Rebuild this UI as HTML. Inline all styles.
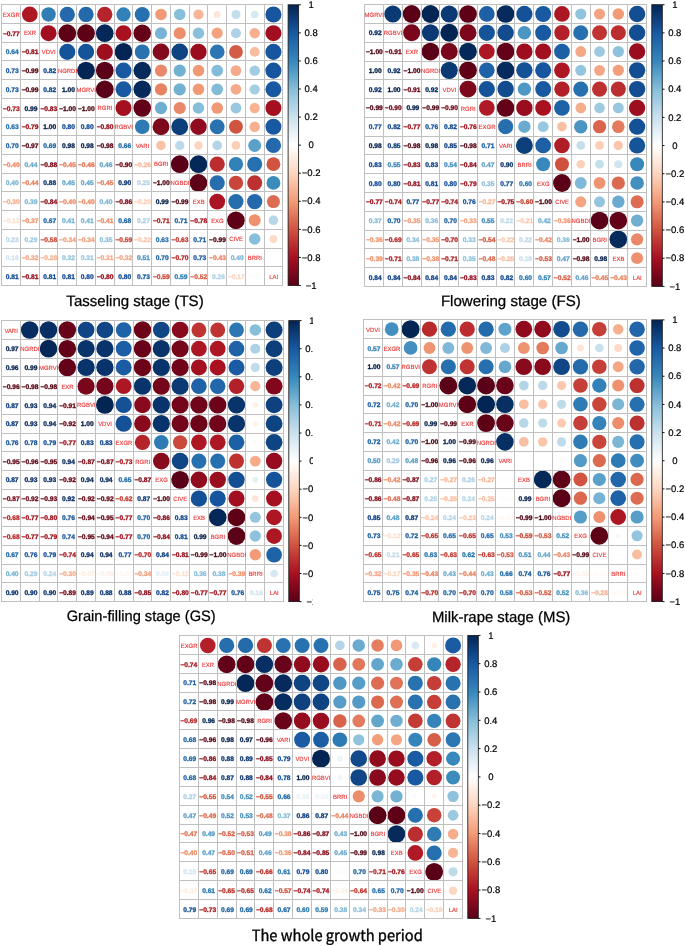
<!DOCTYPE html>
<html lang="en"><head><meta charset="utf-8"><title>Correlation plots</title>
<style>html,body{margin:0;padding:0;background:#fff}svg{display:block}</style></head>
<body>
<svg width="685" height="946" viewBox="0 0 685 946">
<defs><linearGradient id="cb" x1="0" y1="0" x2="0" y2="1">
<stop offset="0" stop-color="#032554"/>
<stop offset="0.02" stop-color="#072f63"/>
<stop offset="0.04" stop-color="#0b3972"/>
<stop offset="0.06" stop-color="#0f4482"/>
<stop offset="0.08" stop-color="#144e92"/>
<stop offset="0.1" stop-color="#1859a2"/>
<stop offset="0.12" stop-color="#1e62a7"/>
<stop offset="0.14" stop-color="#246bac"/>
<stop offset="0.16" stop-color="#2a74b1"/>
<stop offset="0.18" stop-color="#307eb6"/>
<stop offset="0.2" stop-color="#3787bb"/>
<stop offset="0.22" stop-color="#4692c1"/>
<stop offset="0.24" stop-color="#569dc7"/>
<stop offset="0.26" stop-color="#65a8cd"/>
<stop offset="0.28" stop-color="#76b2d3"/>
<stop offset="0.3" stop-color="#86bed9"/>
<stop offset="0.32" stop-color="#94c5dd"/>
<stop offset="0.34" stop-color="#a1cce2"/>
<stop offset="0.36" stop-color="#afd3e6"/>
<stop offset="0.38" stop-color="#bddaea"/>
<stop offset="0.4" stop-color="#cbe1ee"/>
<stop offset="0.42" stop-color="#d5e7f1"/>
<stop offset="0.44" stop-color="#e0edf5"/>
<stop offset="0.46" stop-color="#eaf3f8"/>
<stop offset="0.48" stop-color="#f4f9fc"/>
<stop offset="0.5" stop-color="#ffffff"/>
<stop offset="0.52" stop-color="#fff7f2"/>
<stop offset="0.54" stop-color="#feefe5"/>
<stop offset="0.56" stop-color="#fee6d9"/>
<stop offset="0.58" stop-color="#fddecc"/>
<stop offset="0.6" stop-color="#fdd6c0"/>
<stop offset="0.62" stop-color="#fbcab1"/>
<stop offset="0.64" stop-color="#f9bea1"/>
<stop offset="0.66" stop-color="#f7b293"/>
<stop offset="0.68" stop-color="#f4a684"/>
<stop offset="0.7" stop-color="#f29b76"/>
<stop offset="0.72" stop-color="#ec8c6b"/>
<stop offset="0.74" stop-color="#e57d60"/>
<stop offset="0.76" stop-color="#de6f55"/>
<stop offset="0.78" stop-color="#d7614b"/>
<stop offset="0.8" stop-color="#d05340"/>
<stop offset="0.82" stop-color="#c8453a"/>
<stop offset="0.84" stop-color="#c03733"/>
<stop offset="0.86" stop-color="#b82a2d"/>
<stop offset="0.88" stop-color="#b11d27"/>
<stop offset="0.9" stop-color="#a91121"/>
<stop offset="0.92" stop-color="#980d1f"/>
<stop offset="0.94" stop-color="#88091d"/>
<stop offset="0.96" stop-color="#79061b"/>
<stop offset="0.98" stop-color="#690319"/>
<stop offset="1" stop-color="#5a0017"/>
</linearGradient><clipPath id="clip3"><rect x="0" y="300" width="312.9" height="320"/></clipPath></defs>
<rect width="685" height="946" fill="#fff"/>
<g text-rendering="geometricPrecision">
<g>
<g>
<circle cx="29.81" cy="14.46" r="7.85" fill="#ad1724"/>
<circle cx="48.55" cy="14.46" r="7.20" fill="#317eb6"/>
<circle cx="67.29" cy="14.46" r="7.66" fill="#2369ab"/>
<circle cx="86.03" cy="14.46" r="7.66" fill="#2369ab"/>
<circle cx="104.77" cy="14.46" r="7.66" fill="#b5242a"/>
<circle cx="123.51" cy="14.46" r="7.14" fill="#3281b8"/>
<circle cx="142.25" cy="14.46" r="7.51" fill="#2770af"/>
<circle cx="160.99" cy="14.46" r="5.78" fill="#f19874"/>
<circle cx="179.73" cy="14.46" r="5.78" fill="#87beda"/>
<circle cx="198.47" cy="14.46" r="5.07" fill="#f7b698"/>
<circle cx="217.21" cy="14.46" r="3.37" fill="#fee5d7"/>
<circle cx="235.95" cy="14.46" r="4.49" fill="#c2ddeb"/>
<circle cx="254.69" cy="14.46" r="3.82" fill="#d6e8f2"/>
<circle cx="273.43" cy="14.46" r="8.04" fill="#17569e"/>
<circle cx="48.55" cy="33.17" r="8.04" fill="#a10f20"/>
<circle cx="67.29" cy="33.17" r="8.84" fill="#5e0117"/>
<circle cx="86.03" cy="33.17" r="8.84" fill="#5e0117"/>
<circle cx="104.77" cy="33.17" r="8.84" fill="#042858"/>
<circle cx="123.51" cy="33.17" r="7.95" fill="#a91121"/>
<circle cx="142.25" cy="33.17" r="8.76" fill="#650218"/>
<circle cx="160.99" cy="33.17" r="6.04" fill="#77b3d4"/>
<circle cx="179.73" cy="33.17" r="6.04" fill="#ec8d6b"/>
<circle cx="198.47" cy="33.17" r="5.72" fill="#8bc0db"/>
<circle cx="217.21" cy="33.17" r="5.58" fill="#f4a17e"/>
<circle cx="235.95" cy="33.17" r="4.99" fill="#add2e5"/>
<circle cx="254.69" cy="33.17" r="5.22" fill="#f6b090"/>
<circle cx="273.43" cy="33.17" r="8.04" fill="#a10f20"/>
<circle cx="67.29" cy="51.88" r="8.09" fill="#16549a"/>
<circle cx="86.03" cy="51.88" r="8.09" fill="#16549a"/>
<circle cx="104.77" cy="51.88" r="8.13" fill="#9d0e1f"/>
<circle cx="123.51" cy="51.88" r="8.88" fill="#032554"/>
<circle cx="142.25" cy="51.88" r="7.45" fill="#2972b0"/>
<circle cx="160.99" cy="51.88" r="8.36" fill="#85091c"/>
<circle cx="179.73" cy="51.88" r="8.36" fill="#0f4482"/>
<circle cx="198.47" cy="51.88" r="8.18" fill="#990d1f"/>
<circle cx="217.21" cy="51.88" r="7.35" fill="#2c77b3"/>
<circle cx="235.95" cy="51.88" r="6.87" fill="#d45b46"/>
<circle cx="254.69" cy="51.88" r="4.91" fill="#f8bc9f"/>
<circle cx="273.43" cy="51.88" r="8.04" fill="#17569e"/>
<circle cx="86.03" cy="70.60" r="8.88" fill="#032554"/>
<circle cx="104.77" cy="70.60" r="8.88" fill="#5a0017"/>
<circle cx="123.51" cy="70.60" r="7.99" fill="#1859a2"/>
<circle cx="142.25" cy="70.60" r="8.80" fill="#052a5b"/>
<circle cx="160.99" cy="70.60" r="6.11" fill="#ea8969"/>
<circle cx="179.73" cy="70.60" r="6.11" fill="#73b1d2"/>
<circle cx="198.47" cy="70.60" r="5.78" fill="#f19874"/>
<circle cx="217.21" cy="70.60" r="5.85" fill="#83bcd8"/>
<circle cx="235.95" cy="70.60" r="5.37" fill="#f5aa89"/>
<circle cx="254.69" cy="70.60" r="5.22" fill="#a2cce2"/>
<circle cx="273.43" cy="70.60" r="8.04" fill="#17569e"/>
<circle cx="104.77" cy="89.31" r="8.88" fill="#5a0017"/>
<circle cx="123.51" cy="89.31" r="7.99" fill="#1859a2"/>
<circle cx="142.25" cy="89.31" r="8.80" fill="#052a5b"/>
<circle cx="160.99" cy="89.31" r="6.17" fill="#e78263"/>
<circle cx="179.73" cy="89.31" r="6.11" fill="#73b1d2"/>
<circle cx="198.47" cy="89.31" r="5.78" fill="#f19874"/>
<circle cx="217.21" cy="89.31" r="5.85" fill="#83bcd8"/>
<circle cx="235.95" cy="89.31" r="5.37" fill="#f5aa89"/>
<circle cx="254.69" cy="89.31" r="5.15" fill="#a6cee3"/>
<circle cx="273.43" cy="89.31" r="7.99" fill="#1859a2"/>
<circle cx="123.51" cy="108.02" r="7.99" fill="#a51020"/>
<circle cx="142.25" cy="108.02" r="8.80" fill="#620118"/>
<circle cx="160.99" cy="108.02" r="6.17" fill="#6faed1"/>
<circle cx="179.73" cy="108.02" r="6.11" fill="#ea8969"/>
<circle cx="198.47" cy="108.02" r="5.78" fill="#87beda"/>
<circle cx="217.21" cy="108.02" r="5.85" fill="#f19874"/>
<circle cx="235.95" cy="108.02" r="5.44" fill="#98c7df"/>
<circle cx="254.69" cy="108.02" r="5.15" fill="#f7b394"/>
<circle cx="273.43" cy="108.02" r="7.99" fill="#a51020"/>
<circle cx="142.25" cy="126.74" r="7.30" fill="#2e7ab4"/>
<circle cx="160.99" cy="126.74" r="8.45" fill="#7d071b"/>
<circle cx="179.73" cy="126.74" r="8.45" fill="#0d3f7a"/>
<circle cx="198.47" cy="126.74" r="8.27" fill="#910b1e"/>
<circle cx="217.21" cy="126.74" r="7.40" fill="#2972b0"/>
<circle cx="235.95" cy="126.74" r="6.93" fill="#d15441"/>
<circle cx="254.69" cy="126.74" r="5.22" fill="#f6b090"/>
<circle cx="273.43" cy="126.74" r="7.99" fill="#1859a2"/>
<circle cx="160.99" cy="145.45" r="4.75" fill="#f9c2a7"/>
<circle cx="179.73" cy="145.45" r="4.67" fill="#bbd9e9"/>
<circle cx="198.47" cy="145.45" r="4.22" fill="#fcd4bd"/>
<circle cx="217.21" cy="145.45" r="4.83" fill="#b4d5e7"/>
<circle cx="235.95" cy="145.45" r="4.41" fill="#fbceb6"/>
<circle cx="254.69" cy="145.45" r="6.47" fill="#5aa0c9"/>
<circle cx="273.43" cy="145.45" r="7.66" fill="#2369ab"/>
<circle cx="179.73" cy="164.16" r="8.88" fill="#5a0017"/>
<circle cx="198.47" cy="164.16" r="8.84" fill="#042858"/>
<circle cx="217.21" cy="164.16" r="7.56" fill="#bb2d2f"/>
<circle cx="235.95" cy="164.16" r="7.14" fill="#3281b8"/>
<circle cx="254.69" cy="164.16" r="7.51" fill="#2770af"/>
<circle cx="273.43" cy="164.16" r="6.93" fill="#d15441"/>
<circle cx="198.47" cy="182.88" r="8.84" fill="#5e0117"/>
<circle cx="217.21" cy="182.88" r="7.56" fill="#266eae"/>
<circle cx="235.95" cy="182.88" r="7.14" fill="#c9453a"/>
<circle cx="254.69" cy="182.88" r="7.51" fill="#bd3131"/>
<circle cx="273.43" cy="182.88" r="6.93" fill="#3b8bbd"/>
<circle cx="217.21" cy="201.59" r="7.90" fill="#ab1423"/>
<circle cx="235.95" cy="201.59" r="7.56" fill="#266eae"/>
<circle cx="254.69" cy="201.59" r="7.66" fill="#2369ab"/>
<circle cx="273.43" cy="201.59" r="6.53" fill="#dd6c53"/>
<circle cx="235.95" cy="220.30" r="8.84" fill="#5e0117"/>
<circle cx="254.69" cy="220.30" r="5.98" fill="#ee916e"/>
<circle cx="273.43" cy="220.30" r="4.75" fill="#b7d7e8"/>
<circle cx="254.69" cy="239.02" r="5.78" fill="#87beda"/>
<circle cx="273.43" cy="239.02" r="3.93" fill="#fddbc7"/>
<circle cx="273.43" cy="257.73" r="1.64" fill="#fbfdfe"/>
</g>
<path d="M1.70 4.80V285.50M1.70 4.80H282.80M20.44 4.80V285.50M1.70 23.51H282.80M39.18 4.80V285.50M1.70 42.23H282.80M57.92 4.80V285.50M1.70 60.94H282.80M76.66 4.80V285.50M1.70 79.65H282.80M95.40 4.80V285.50M1.70 98.37H282.80M114.14 4.80V285.50M1.70 117.08H282.80M132.88 4.80V285.50M1.70 135.79H282.80M151.62 4.80V285.50M1.70 154.51H282.80M170.36 4.80V285.50M1.70 173.22H282.80M189.10 4.80V285.50M1.70 191.93H282.80M207.84 4.80V285.50M1.70 210.65H282.80M226.58 4.80V285.50M1.70 229.36H282.80M245.32 4.80V285.50M1.70 248.07H282.80M264.06 4.80V285.50M1.70 266.79H282.80M282.80 4.80V285.50M1.70 285.50H282.80" stroke="#c0c0c0" stroke-width="1" fill="none" stroke-linecap="square" shape-rendering="crispEdges"/>
<g font-family="'Liberation Sans', Arial, Helvetica, sans-serif" font-weight="bold" font-size="6.65" text-anchor="middle" stroke-width="0.3">
<text x="11.37" y="35.77" fill="#a10f1a" stroke="#a10f1a">−0.77</text>
<text x="12.27" y="54.48" fill="#2570ac" stroke="#2570ac">0.64</text>
<text x="30.11" y="54.48" fill="#940916" stroke="#940916">−0.81</text>
<text x="12.27" y="73.20" fill="#195aa0" stroke="#195aa0">0.73</text>
<text x="30.11" y="73.20" fill="#4f000f" stroke="#4f000f">−0.99</text>
<text x="49.75" y="73.20" fill="#0e458d" stroke="#0e458d">0.82</text>
<text x="12.27" y="91.91" fill="#195aa0" stroke="#195aa0">0.73</text>
<text x="30.11" y="91.91" fill="#4f000f" stroke="#4f000f">−0.99</text>
<text x="49.75" y="91.91" fill="#0e458d" stroke="#0e458d">0.82</text>
<text x="68.49" y="91.91" fill="#011b45" stroke="#011b45">1.00</text>
<text x="11.37" y="110.62" fill="#aa191f" stroke="#aa191f">−0.73</text>
<text x="31.01" y="110.62" fill="#021d49" stroke="#021d49">0.99</text>
<text x="48.85" y="110.62" fill="#900816" stroke="#900816">−0.83</text>
<text x="67.59" y="110.62" fill="#4b000f" stroke="#4b000f">−1.00</text>
<text x="86.33" y="110.62" fill="#4b000f" stroke="#4b000f">−1.00</text>
<text x="12.27" y="129.34" fill="#2672ae" stroke="#2672ae">0.63</text>
<text x="30.11" y="129.34" fill="#9d0b17" stroke="#9d0b17">−0.79</text>
<text x="49.75" y="129.34" fill="#011b45" stroke="#011b45">1.00</text>
<text x="68.49" y="129.34" fill="#104a96" stroke="#104a96">0.80</text>
<text x="87.23" y="129.34" fill="#104a96" stroke="#104a96">0.80</text>
<text x="105.07" y="129.34" fill="#990a17" stroke="#990a17">−0.80</text>
<text x="12.27" y="148.05" fill="#1c61a4" stroke="#1c61a4">0.70</text>
<text x="30.11" y="148.05" fill="#560110" stroke="#560110">−0.97</text>
<text x="49.75" y="148.05" fill="#1e64a5" stroke="#1e64a5">0.69</text>
<text x="68.49" y="148.05" fill="#021f4d" stroke="#021f4d">0.98</text>
<text x="87.23" y="148.05" fill="#021f4d" stroke="#021f4d">0.98</text>
<text x="105.07" y="148.05" fill="#520010" stroke="#520010">−0.98</text>
<text x="124.71" y="148.05" fill="#226ba9" stroke="#226ba9">0.66</text>
<text x="11.37" y="166.76" fill="#ef8b65" stroke="#ef8b65">−0.40</text>
<text x="31.01" y="166.76" fill="#68a9cd" stroke="#68a9cd">0.44</text>
<text x="48.85" y="166.76" fill="#760513" stroke="#760513">−0.88</text>
<text x="67.59" y="166.76" fill="#e77b5a" stroke="#e77b5a">−0.45</text>
<text x="86.33" y="166.76" fill="#e37354" stroke="#e37354">−0.46</text>
<text x="105.97" y="166.76" fill="#60a3ca" stroke="#60a3ca">0.46</text>
<text x="123.81" y="166.76" fill="#6e0412" stroke="#6e0412">−0.90</text>
<text x="142.55" y="166.76" fill="#f8b99b" stroke="#f8b99b">−0.26</text>
<text x="12.27" y="185.48" fill="#79b5d4" stroke="#79b5d4">0.40</text>
<text x="30.11" y="185.48" fill="#e97f5c" stroke="#e97f5c">−0.44</text>
<text x="49.75" y="185.48" fill="#093674" stroke="#093674">0.88</text>
<text x="68.49" y="185.48" fill="#64a6cb" stroke="#64a6cb">0.45</text>
<text x="87.23" y="185.48" fill="#64a6cb" stroke="#64a6cb">0.45</text>
<text x="105.07" y="185.48" fill="#e77b5a" stroke="#e77b5a">−0.45</text>
<text x="124.71" y="185.48" fill="#08316c" stroke="#08316c">0.90</text>
<text x="143.45" y="185.48" fill="#b1d3e5" stroke="#b1d3e5">0.25</text>
<text x="161.29" y="185.48" fill="#4b000f" stroke="#4b000f">−1.00</text>
<text x="11.37" y="204.19" fill="#f6ac8a" stroke="#f6ac8a">−0.30</text>
<text x="31.01" y="204.19" fill="#7db7d5" stroke="#7db7d5">0.39</text>
<text x="48.85" y="204.19" fill="#8c0815" stroke="#8c0815">−0.84</text>
<text x="67.59" y="204.19" fill="#ef8b65" stroke="#ef8b65">−0.40</text>
<text x="86.33" y="204.19" fill="#ef8b65" stroke="#ef8b65">−0.40</text>
<text x="105.97" y="204.19" fill="#79b5d4" stroke="#79b5d4">0.40</text>
<text x="123.81" y="204.19" fill="#830715" stroke="#830715">−0.86</text>
<text x="142.55" y="204.19" fill="#fcceb4" stroke="#fcceb4">−0.20</text>
<text x="162.19" y="204.19" fill="#021d49" stroke="#021d49">0.99</text>
<text x="180.03" y="204.19" fill="#4f000f" stroke="#4f000f">−0.99</text>
<text x="11.37" y="222.90" fill="#fde1d1" stroke="#fde1d1">−0.12</text>
<text x="30.11" y="222.90" fill="#f2956f" stroke="#f2956f">−0.37</text>
<text x="49.75" y="222.90" fill="#2068a8" stroke="#2068a8">0.67</text>
<text x="68.49" y="222.90" fill="#75b2d2" stroke="#75b2d2">0.41</text>
<text x="87.23" y="222.90" fill="#75b2d2" stroke="#75b2d2">0.41</text>
<text x="105.07" y="222.90" fill="#ef8b65" stroke="#ef8b65">−0.41</text>
<text x="124.71" y="222.90" fill="#1e64a5" stroke="#1e64a5">0.68</text>
<text x="143.45" y="222.90" fill="#a9cfe3" stroke="#a9cfe3">0.27</text>
<text x="161.29" y="222.90" fill="#b12223" stroke="#b12223">−0.71</text>
<text x="180.93" y="222.90" fill="#1b5fa2" stroke="#1b5fa2">0.71</text>
<text x="198.77" y="222.90" fill="#9f0d18" stroke="#9f0d18">−0.78</text>
<text x="12.27" y="241.62" fill="#b9d7e8" stroke="#b9d7e8">0.23</text>
<text x="31.01" y="241.62" fill="#a1cbe1" stroke="#a1cbe1">0.29</text>
<text x="48.85" y="241.62" fill="#cd4c38" stroke="#cd4c38">−0.58</text>
<text x="67.59" y="241.62" fill="#f39f7b" stroke="#f39f7b">−0.34</text>
<text x="86.33" y="241.62" fill="#f39f7b" stroke="#f39f7b">−0.34</text>
<text x="105.97" y="241.62" fill="#8bbfda" stroke="#8bbfda">0.35</text>
<text x="123.81" y="241.62" fill="#ca4533" stroke="#ca4533">−0.59</text>
<text x="142.55" y="241.62" fill="#fbc7ab" stroke="#fbc7ab">−0.22</text>
<text x="162.19" y="241.62" fill="#2672ae" stroke="#2672ae">0.63</text>
<text x="180.03" y="241.62" fill="#c1372d" stroke="#c1372d">−0.63</text>
<text x="199.67" y="241.62" fill="#1b5fa2" stroke="#1b5fa2">0.71</text>
<text x="217.51" y="241.62" fill="#4f000f" stroke="#4f000f">−0.99</text>
<text x="12.27" y="260.33" fill="#d0e4ef" stroke="#d0e4ef">0.16</text>
<text x="30.11" y="260.33" fill="#f5a583" stroke="#f5a583">−0.32</text>
<text x="48.85" y="260.33" fill="#f7b293" stroke="#f7b293">−0.28</text>
<text x="68.49" y="260.33" fill="#96c5dd" stroke="#96c5dd">0.32</text>
<text x="87.23" y="260.33" fill="#9ac7de" stroke="#9ac7de">0.31</text>
<text x="105.07" y="260.33" fill="#f5a887" stroke="#f5a887">−0.31</text>
<text x="123.81" y="260.33" fill="#f5a583" stroke="#f5a583">−0.32</text>
<text x="143.45" y="260.33" fill="#4c94c1" stroke="#4c94c1">0.51</text>
<text x="162.19" y="260.33" fill="#1c61a4" stroke="#1c61a4">0.70</text>
<text x="180.03" y="260.33" fill="#b32524" stroke="#b32524">−0.70</text>
<text x="199.67" y="260.33" fill="#195aa0" stroke="#195aa0">0.73</text>
<text x="217.51" y="260.33" fill="#eb835f" stroke="#eb835f">−0.43</text>
<text x="237.15" y="260.33" fill="#79b5d4" stroke="#79b5d4">0.40</text>
<text x="12.27" y="279.04" fill="#0f4892" stroke="#0f4892">0.81</text>
<text x="30.11" y="279.04" fill="#940916" stroke="#940916">−0.81</text>
<text x="49.75" y="279.04" fill="#0f4892" stroke="#0f4892">0.81</text>
<text x="68.49" y="279.04" fill="#0f4892" stroke="#0f4892">0.81</text>
<text x="87.23" y="279.04" fill="#104a96" stroke="#104a96">0.80</text>
<text x="105.07" y="279.04" fill="#990a17" stroke="#990a17">−0.80</text>
<text x="124.71" y="279.04" fill="#104a96" stroke="#104a96">0.80</text>
<text x="143.45" y="279.04" fill="#195aa0" stroke="#195aa0">0.73</text>
<text x="161.29" y="279.04" fill="#ca4533" stroke="#ca4533">−0.59</text>
<text x="180.93" y="279.04" fill="#2e7db4" stroke="#2e7db4">0.59</text>
<text x="198.77" y="279.04" fill="#d75d44" stroke="#d75d44">−0.52</text>
<text x="218.41" y="279.04" fill="#add1e4" stroke="#add1e4">0.26</text>
<text x="236.25" y="279.04" fill="#fdd5bf" stroke="#fdd5bf">−0.17</text>
<text x="255.89" y="279.04" fill="#fafcfd" stroke="#fafcfd">0.02</text>
</g>
<g font-family="'Liberation Sans', Arial, Helvetica, sans-serif" font-size="5.95" text-anchor="middle" fill="#ee2c2c" stroke="#ee2c2c" stroke-width="0.1" transform="scale(1 1.05)">
<text x="11.27" y="15.91">EXGR</text>
<text x="30.01" y="33.73">EXR</text>
<text x="48.75" y="51.56">VDVI</text>
<text x="67.49" y="69.38">NGRDI</text>
<text x="86.23" y="87.20">MGRVI</text>
<text x="104.97" y="105.02">RGRI</text>
<text x="123.71" y="122.84">RGBVI</text>
<text x="142.45" y="140.67">VARI</text>
<text x="161.19" y="158.49">BGRI</text>
<text x="179.93" y="176.31">NGBDI</text>
<text x="198.67" y="194.13">EXB</text>
<text x="217.41" y="211.96">EXG</text>
<text x="236.15" y="229.78">CIVE</text>
<text x="254.89" y="247.60">BRRI</text>
<text x="273.63" y="265.42">LAI</text>
</g>
<rect x="288.10" y="4.80" width="10.50" height="280.70" fill="url(#cb)" stroke="#1a1a1a" stroke-width="0.85"/>
<path d="M298.60 4.80h2.2M298.60 32.87h2.2M298.60 60.94h2.2M298.60 89.01h2.2M298.60 117.08h2.2M298.60 145.15h2.2M298.60 173.22h2.2M298.60 201.29h2.2M298.60 229.36h2.2M298.60 257.43h2.2M298.60 285.50h2.2" stroke="#111" stroke-width="1" fill="none"/>
<g font-family="'Liberation Sans', Arial, Helvetica, sans-serif" font-size="9.5" text-anchor="middle" fill="#000" stroke="#000" stroke-width="0.2">
<text x="311.10" y="8.00">1</text>
<text x="311.10" y="36.07">0.8</text>
<text x="311.10" y="64.14">0.6</text>
<text x="311.10" y="92.21">0.4</text>
<text x="311.10" y="120.28">0.2</text>
<text x="311.10" y="148.35">0</text>
<text x="311.10" y="176.42">−0.2</text>
<text x="311.10" y="204.49">−0.4</text>
<text x="311.10" y="232.56">−0.6</text>
<text x="311.10" y="260.63">−0.8</text>
<text x="311.10" y="288.70">−1</text>
</g>
<text transform="translate(135.00 306.30) scale(1 1)" font-family="'Liberation Sans', Arial, Helvetica, sans-serif" font-size="15.07" text-anchor="middle" fill="#000" stroke="#000" stroke-width="0.25">Tasseling stage (TS)</text>
</g>
<g>
<g>
<circle cx="392.88" cy="13.99" r="8.56" fill="#0b3973"/>
<circle cx="411.67" cy="13.99" r="8.90" fill="#5a0017"/>
<circle cx="430.45" cy="13.99" r="8.90" fill="#032554"/>
<circle cx="449.24" cy="13.99" r="8.56" fill="#0b3973"/>
<circle cx="468.03" cy="13.99" r="8.86" fill="#5e0117"/>
<circle cx="486.81" cy="13.99" r="7.87" fill="#1d60a6"/>
<circle cx="505.60" cy="13.99" r="8.82" fill="#052a5b"/>
<circle cx="524.39" cy="13.99" r="8.15" fill="#155196"/>
<circle cx="543.17" cy="13.99" r="8.01" fill="#1859a2"/>
<circle cx="561.96" cy="13.99" r="7.87" fill="#ad1724"/>
<circle cx="580.75" cy="13.99" r="5.59" fill="#91c3dd"/>
<circle cx="599.53" cy="13.99" r="5.52" fill="#f4a481"/>
<circle cx="618.32" cy="13.99" r="5.73" fill="#f39b77"/>
<circle cx="637.11" cy="13.99" r="8.20" fill="#144e92"/>
<circle cx="411.67" cy="32.77" r="8.51" fill="#79061b"/>
<circle cx="430.45" cy="32.77" r="8.56" fill="#0b3973"/>
<circle cx="449.24" cy="32.77" r="8.90" fill="#032554"/>
<circle cx="468.03" cy="32.77" r="8.47" fill="#7d071b"/>
<circle cx="486.81" cy="32.77" r="8.11" fill="#16549a"/>
<circle cx="505.60" cy="32.77" r="8.24" fill="#134c8e"/>
<circle cx="524.39" cy="32.77" r="6.72" fill="#4b95c3"/>
<circle cx="543.17" cy="32.77" r="8.01" fill="#1859a2"/>
<circle cx="561.96" cy="32.77" r="7.72" fill="#b32029"/>
<circle cx="580.75" cy="32.77" r="7.52" fill="#2770af"/>
<circle cx="599.53" cy="32.77" r="7.47" fill="#bf3432"/>
<circle cx="618.32" cy="32.77" r="7.57" fill="#bb2d2f"/>
<circle cx="637.11" cy="32.77" r="8.20" fill="#144e92"/>
<circle cx="430.45" cy="51.55" r="8.90" fill="#5a0017"/>
<circle cx="449.24" cy="51.55" r="8.51" fill="#79061b"/>
<circle cx="468.03" cy="51.55" r="8.86" fill="#042858"/>
<circle cx="486.81" cy="51.55" r="7.87" fill="#ad1724"/>
<circle cx="505.60" cy="51.55" r="8.82" fill="#620118"/>
<circle cx="524.39" cy="51.55" r="8.15" fill="#9d0e1f"/>
<circle cx="543.17" cy="51.55" r="8.06" fill="#a10f20"/>
<circle cx="561.96" cy="51.55" r="7.87" fill="#1d60a6"/>
<circle cx="580.75" cy="51.55" r="5.45" fill="#f5a785"/>
<circle cx="599.53" cy="51.55" r="5.38" fill="#9cc9e0"/>
<circle cx="618.32" cy="51.55" r="5.66" fill="#8ec2dc"/>
<circle cx="637.11" cy="51.55" r="8.20" fill="#990d1f"/>
<circle cx="449.24" cy="70.33" r="8.56" fill="#0b3973"/>
<circle cx="468.03" cy="70.33" r="8.86" fill="#5e0117"/>
<circle cx="486.81" cy="70.33" r="7.82" fill="#1e62a7"/>
<circle cx="505.60" cy="70.33" r="8.82" fill="#052a5b"/>
<circle cx="524.39" cy="70.33" r="8.15" fill="#155196"/>
<circle cx="543.17" cy="70.33" r="8.06" fill="#17569e"/>
<circle cx="561.96" cy="70.33" r="7.87" fill="#ad1724"/>
<circle cx="580.75" cy="70.33" r="5.52" fill="#95c5de"/>
<circle cx="599.53" cy="70.33" r="5.45" fill="#f5a785"/>
<circle cx="618.32" cy="70.33" r="5.66" fill="#f39e7a"/>
<circle cx="637.11" cy="70.33" r="8.20" fill="#144e92"/>
<circle cx="468.03" cy="89.11" r="8.47" fill="#7d071b"/>
<circle cx="486.81" cy="89.11" r="8.11" fill="#16549a"/>
<circle cx="505.60" cy="89.11" r="8.24" fill="#134c8e"/>
<circle cx="524.39" cy="89.11" r="6.66" fill="#4f98c5"/>
<circle cx="543.17" cy="89.11" r="8.01" fill="#1859a2"/>
<circle cx="561.96" cy="89.11" r="7.72" fill="#b32029"/>
<circle cx="580.75" cy="89.11" r="7.52" fill="#2770af"/>
<circle cx="599.53" cy="89.11" r="7.52" fill="#bd3131"/>
<circle cx="618.32" cy="89.11" r="7.57" fill="#bb2d2f"/>
<circle cx="637.11" cy="89.11" r="8.20" fill="#144e92"/>
<circle cx="486.81" cy="107.89" r="7.82" fill="#af1a26"/>
<circle cx="505.60" cy="107.89" r="8.82" fill="#620118"/>
<circle cx="524.39" cy="107.89" r="8.20" fill="#990d1f"/>
<circle cx="543.17" cy="107.89" r="7.96" fill="#a91121"/>
<circle cx="561.96" cy="107.89" r="7.82" fill="#1e62a7"/>
<circle cx="580.75" cy="107.89" r="5.31" fill="#f6ad8c"/>
<circle cx="599.53" cy="107.89" r="5.31" fill="#9fcbe1"/>
<circle cx="618.32" cy="107.89" r="5.45" fill="#98c7df"/>
<circle cx="637.11" cy="107.89" r="8.15" fill="#9d0e1f"/>
<circle cx="505.60" cy="126.67" r="7.57" fill="#266eae"/>
<circle cx="524.39" cy="126.67" r="6.25" fill="#6babcf"/>
<circle cx="543.17" cy="126.67" r="5.45" fill="#98c7df"/>
<circle cx="561.96" cy="126.67" r="4.84" fill="#f9bfa3"/>
<circle cx="580.75" cy="126.67" r="6.72" fill="#4b95c3"/>
<circle cx="599.53" cy="126.67" r="6.66" fill="#d9654e"/>
<circle cx="618.32" cy="126.67" r="6.31" fill="#e37b5e"/>
<circle cx="637.11" cy="126.67" r="8.15" fill="#155196"/>
<circle cx="524.39" cy="145.45" r="8.47" fill="#0d3f7a"/>
<circle cx="543.17" cy="145.45" r="7.87" fill="#1d60a6"/>
<circle cx="561.96" cy="145.45" r="7.77" fill="#b11d27"/>
<circle cx="580.75" cy="145.45" r="4.42" fill="#c5deec"/>
<circle cx="599.53" cy="145.45" r="4.42" fill="#fbceb6"/>
<circle cx="618.32" cy="145.45" r="4.68" fill="#fac5aa"/>
<circle cx="637.11" cy="145.45" r="8.11" fill="#16549a"/>
<circle cx="543.17" cy="164.23" r="7.00" fill="#3888bc"/>
<circle cx="561.96" cy="164.23" r="7.00" fill="#cf503f"/>
<circle cx="580.75" cy="164.23" r="4.32" fill="#fcd1ba"/>
<circle cx="599.53" cy="164.23" r="4.42" fill="#c5deec"/>
<circle cx="618.32" cy="164.23" r="4.04" fill="#d1e5f0"/>
<circle cx="637.11" cy="164.23" r="7.00" fill="#3888bc"/>
<circle cx="561.96" cy="183.01" r="8.90" fill="#5a0017"/>
<circle cx="580.75" cy="183.01" r="5.93" fill="#7fb9d7"/>
<circle cx="599.53" cy="183.01" r="5.93" fill="#ef9471"/>
<circle cx="618.32" cy="183.01" r="6.60" fill="#db6950"/>
<circle cx="637.11" cy="183.01" r="6.83" fill="#4390c0"/>
<circle cx="580.75" cy="201.79" r="5.52" fill="#f4a481"/>
<circle cx="599.53" cy="201.79" r="5.52" fill="#95c5de"/>
<circle cx="618.32" cy="201.79" r="6.25" fill="#6babcf"/>
<circle cx="637.11" cy="201.79" r="6.55" fill="#dd6c53"/>
<circle cx="599.53" cy="220.57" r="8.90" fill="#5a0017"/>
<circle cx="618.32" cy="220.57" r="8.82" fill="#620118"/>
<circle cx="637.11" cy="220.57" r="6.18" fill="#6faed1"/>
<circle cx="618.32" cy="239.35" r="8.82" fill="#052a5b"/>
<circle cx="637.11" cy="239.35" r="6.12" fill="#ea8969"/>
<circle cx="637.11" cy="258.13" r="5.99" fill="#ee916e"/>
</g>
<path d="M364.70 4.70V286.40M364.70 4.70H646.50M383.49 4.70V286.40M364.70 23.48H646.50M402.27 4.70V286.40M364.70 42.26H646.50M421.06 4.70V286.40M364.70 61.04H646.50M439.85 4.70V286.40M364.70 79.82H646.50M458.63 4.70V286.40M364.70 98.60H646.50M477.42 4.70V286.40M364.70 117.38H646.50M496.21 4.70V286.40M364.70 136.16H646.50M514.99 4.70V286.40M364.70 154.94H646.50M533.78 4.70V286.40M364.70 173.72H646.50M552.57 4.70V286.40M364.70 192.50H646.50M571.35 4.70V286.40M364.70 211.28H646.50M590.14 4.70V286.40M364.70 230.06H646.50M608.93 4.70V286.40M364.70 248.84H646.50M627.71 4.70V286.40M364.70 267.62H646.50M646.50 4.70V286.40M364.70 286.40H646.50" stroke="#c0c0c0" stroke-width="1" fill="none" stroke-linecap="square" shape-rendering="crispEdges"/>
<g font-family="'Liberation Sans', Arial, Helvetica, sans-serif" font-weight="bold" font-size="6.65" text-anchor="middle" stroke-width="0.3">
<text x="375.29" y="35.37" fill="#062c64" stroke="#062c64">0.92</text>
<text x="374.39" y="54.15" fill="#4b000f" stroke="#4b000f">−1.00</text>
<text x="393.18" y="54.15" fill="#6a0312" stroke="#6a0312">−0.91</text>
<text x="375.29" y="72.93" fill="#011b45" stroke="#011b45">1.00</text>
<text x="394.08" y="72.93" fill="#062c64" stroke="#062c64">0.92</text>
<text x="411.97" y="72.93" fill="#4b000f" stroke="#4b000f">−1.00</text>
<text x="375.29" y="91.71" fill="#062c64" stroke="#062c64">0.92</text>
<text x="394.08" y="91.71" fill="#011b45" stroke="#011b45">1.00</text>
<text x="411.97" y="91.71" fill="#6a0312" stroke="#6a0312">−0.91</text>
<text x="431.65" y="91.71" fill="#062c64" stroke="#062c64">0.92</text>
<text x="374.39" y="110.49" fill="#4f000f" stroke="#4f000f">−0.99</text>
<text x="393.18" y="110.49" fill="#6e0412" stroke="#6e0412">−0.90</text>
<text x="412.87" y="110.49" fill="#021d49" stroke="#021d49">0.99</text>
<text x="430.75" y="110.49" fill="#4f000f" stroke="#4f000f">−0.99</text>
<text x="449.54" y="110.49" fill="#6e0412" stroke="#6e0412">−0.90</text>
<text x="375.29" y="129.27" fill="#14519a" stroke="#14519a">0.77</text>
<text x="394.08" y="129.27" fill="#0e458d" stroke="#0e458d">0.82</text>
<text x="411.97" y="129.27" fill="#a10f1a" stroke="#a10f1a">−0.77</text>
<text x="431.65" y="129.27" fill="#15539b" stroke="#15539b">0.76</text>
<text x="450.44" y="129.27" fill="#0e458d" stroke="#0e458d">0.82</text>
<text x="468.33" y="129.27" fill="#a4121b" stroke="#a4121b">−0.76</text>
<text x="375.29" y="148.05" fill="#021f4d" stroke="#021f4d">0.98</text>
<text x="394.08" y="148.05" fill="#0c3d81" stroke="#0c3d81">0.85</text>
<text x="411.97" y="148.05" fill="#520010" stroke="#520010">−0.98</text>
<text x="431.65" y="148.05" fill="#021f4d" stroke="#021f4d">0.98</text>
<text x="450.44" y="148.05" fill="#0c3d81" stroke="#0c3d81">0.85</text>
<text x="468.33" y="148.05" fill="#520010" stroke="#520010">−0.98</text>
<text x="488.01" y="148.05" fill="#1b5fa2" stroke="#1b5fa2">0.71</text>
<text x="375.29" y="166.83" fill="#0d4289" stroke="#0d4289">0.83</text>
<text x="394.08" y="166.83" fill="#3c88ba" stroke="#3c88ba">0.55</text>
<text x="411.97" y="166.83" fill="#900816" stroke="#900816">−0.83</text>
<text x="431.65" y="166.83" fill="#0d4289" stroke="#0d4289">0.83</text>
<text x="450.44" y="166.83" fill="#408bbc" stroke="#408bbc">0.54</text>
<text x="468.33" y="166.83" fill="#8c0815" stroke="#8c0815">−0.84</text>
<text x="488.01" y="166.83" fill="#5ca0c8" stroke="#5ca0c8">0.47</text>
<text x="506.80" y="166.83" fill="#08316c" stroke="#08316c">0.90</text>
<text x="375.29" y="185.61" fill="#104a96" stroke="#104a96">0.80</text>
<text x="394.08" y="185.61" fill="#104a96" stroke="#104a96">0.80</text>
<text x="411.97" y="185.61" fill="#940916" stroke="#940916">−0.81</text>
<text x="431.65" y="185.61" fill="#0f4892" stroke="#0f4892">0.81</text>
<text x="450.44" y="185.61" fill="#104a96" stroke="#104a96">0.80</text>
<text x="468.33" y="185.61" fill="#9d0b17" stroke="#9d0b17">−0.79</text>
<text x="488.01" y="185.61" fill="#8bbfda" stroke="#8bbfda">0.35</text>
<text x="506.80" y="185.61" fill="#14519a" stroke="#14519a">0.77</text>
<text x="525.59" y="185.61" fill="#2b7ab2" stroke="#2b7ab2">0.60</text>
<text x="374.39" y="204.39" fill="#a10f1a" stroke="#a10f1a">−0.77</text>
<text x="393.18" y="204.39" fill="#a8171e" stroke="#a8171e">−0.74</text>
<text x="412.87" y="204.39" fill="#14519a" stroke="#14519a">0.77</text>
<text x="430.75" y="204.39" fill="#a10f1a" stroke="#a10f1a">−0.77</text>
<text x="449.54" y="204.39" fill="#a8171e" stroke="#a8171e">−0.74</text>
<text x="469.23" y="204.39" fill="#15539b" stroke="#15539b">0.76</text>
<text x="487.11" y="204.39" fill="#f8b697" stroke="#f8b697">−0.27</text>
<text x="505.90" y="204.39" fill="#a6141c" stroke="#a6141c">−0.75</text>
<text x="524.69" y="204.39" fill="#c74131" stroke="#c74131">−0.60</text>
<text x="543.47" y="204.39" fill="#4b000f" stroke="#4b000f">−1.00</text>
<text x="375.29" y="223.17" fill="#84bbd7" stroke="#84bbd7">0.37</text>
<text x="394.08" y="223.17" fill="#1c61a4" stroke="#1c61a4">0.70</text>
<text x="411.97" y="223.17" fill="#f39b77" stroke="#f39b77">−0.35</text>
<text x="431.65" y="223.17" fill="#87bdd9" stroke="#87bdd9">0.36</text>
<text x="450.44" y="223.17" fill="#1c61a4" stroke="#1c61a4">0.70</text>
<text x="468.33" y="223.17" fill="#f4a27f" stroke="#f4a27f">−0.33</text>
<text x="488.01" y="223.17" fill="#3c88ba" stroke="#3c88ba">0.55</text>
<text x="506.80" y="223.17" fill="#bdd9e9" stroke="#bdd9e9">0.22</text>
<text x="524.69" y="223.17" fill="#fbcab0" stroke="#fbcab0">−0.21</text>
<text x="544.37" y="223.17" fill="#71afd1" stroke="#71afd1">0.42</text>
<text x="562.26" y="223.17" fill="#f29873" stroke="#f29873">−0.36</text>
<text x="374.39" y="241.95" fill="#f29873" stroke="#f29873">−0.36</text>
<text x="393.18" y="241.95" fill="#b52826" stroke="#b52826">−0.69</text>
<text x="412.87" y="241.95" fill="#8fc1db" stroke="#8fc1db">0.34</text>
<text x="430.75" y="241.95" fill="#f39b77" stroke="#f39b77">−0.35</text>
<text x="449.54" y="241.95" fill="#b32524" stroke="#b32524">−0.70</text>
<text x="469.23" y="241.95" fill="#92c3dc" stroke="#92c3dc">0.33</text>
<text x="487.11" y="241.95" fill="#d3563f" stroke="#d3563f">−0.54</text>
<text x="505.90" y="241.95" fill="#fbc7ab" stroke="#fbc7ab">−0.22</text>
<text x="525.59" y="241.95" fill="#bdd9e9" stroke="#bdd9e9">0.22</text>
<text x="543.47" y="241.95" fill="#ed8762" stroke="#ed8762">−0.42</text>
<text x="563.16" y="241.95" fill="#87bdd9" stroke="#87bdd9">0.36</text>
<text x="581.05" y="241.95" fill="#4b000f" stroke="#4b000f">−1.00</text>
<text x="374.39" y="260.73" fill="#f08f68" stroke="#f08f68">−0.39</text>
<text x="393.18" y="260.73" fill="#b12223" stroke="#b12223">−0.71</text>
<text x="412.87" y="260.73" fill="#80b9d6" stroke="#80b9d6">0.38</text>
<text x="430.75" y="260.73" fill="#f1926c" stroke="#f1926c">−0.38</text>
<text x="449.54" y="260.73" fill="#b12223" stroke="#b12223">−0.71</text>
<text x="469.23" y="260.73" fill="#8bbfda" stroke="#8bbfda">0.35</text>
<text x="487.11" y="260.73" fill="#df6c4f" stroke="#df6c4f">−0.48</text>
<text x="505.90" y="260.73" fill="#f9bc9f" stroke="#f9bc9f">−0.25</text>
<text x="525.59" y="260.73" fill="#cae1ed" stroke="#cae1ed">0.18</text>
<text x="543.47" y="260.73" fill="#d55a42" stroke="#d55a42">−0.53</text>
<text x="563.16" y="260.73" fill="#5ca0c8" stroke="#5ca0c8">0.47</text>
<text x="581.05" y="260.73" fill="#520010" stroke="#520010">−0.98</text>
<text x="600.73" y="260.73" fill="#021f4d" stroke="#021f4d">0.98</text>
<text x="375.29" y="279.51" fill="#0d4085" stroke="#0d4085">0.84</text>
<text x="394.08" y="279.51" fill="#0d4085" stroke="#0d4085">0.84</text>
<text x="411.97" y="279.51" fill="#8c0815" stroke="#8c0815">−0.84</text>
<text x="431.65" y="279.51" fill="#0d4085" stroke="#0d4085">0.84</text>
<text x="450.44" y="279.51" fill="#0d4085" stroke="#0d4085">0.84</text>
<text x="468.33" y="279.51" fill="#900816" stroke="#900816">−0.83</text>
<text x="488.01" y="279.51" fill="#0d4289" stroke="#0d4289">0.83</text>
<text x="506.80" y="279.51" fill="#0e458d" stroke="#0e458d">0.82</text>
<text x="525.59" y="279.51" fill="#2b7ab2" stroke="#2b7ab2">0.60</text>
<text x="544.37" y="279.51" fill="#3582b7" stroke="#3582b7">0.57</text>
<text x="562.26" y="279.51" fill="#d75d44" stroke="#d75d44">−0.52</text>
<text x="581.95" y="279.51" fill="#60a3ca" stroke="#60a3ca">0.46</text>
<text x="599.83" y="279.51" fill="#e77b5a" stroke="#e77b5a">−0.45</text>
<text x="618.62" y="279.51" fill="#eb835f" stroke="#eb835f">−0.43</text>
</g>
<g font-family="'Liberation Sans', Arial, Helvetica, sans-serif" font-size="5.95" text-anchor="middle" fill="#ee2c2c" stroke="#ee2c2c" stroke-width="0.1" transform="scale(1 1.05)">
<text x="374.29" y="15.85">MGRVI</text>
<text x="393.08" y="33.73">RGBVI</text>
<text x="411.87" y="51.62">EXR</text>
<text x="430.65" y="69.50">NGRDI</text>
<text x="449.44" y="87.39">VDVI</text>
<text x="468.23" y="105.28">RGRI</text>
<text x="487.01" y="123.16">EXGR</text>
<text x="505.80" y="141.05">VARI</text>
<text x="524.59" y="158.93">BRRI</text>
<text x="543.37" y="176.82">EXG</text>
<text x="562.16" y="194.70">CIVE</text>
<text x="580.95" y="212.59">NGBDI</text>
<text x="599.73" y="230.48">BGRI</text>
<text x="618.52" y="248.36">EXB</text>
<text x="637.31" y="266.25">LAI</text>
</g>
<rect x="651.80" y="4.70" width="10.50" height="281.70" fill="url(#cb)" stroke="#1a1a1a" stroke-width="0.85"/>
<path d="M662.30 4.70h2.2M662.30 32.87h2.2M662.30 61.04h2.2M662.30 89.21h2.2M662.30 117.38h2.2M662.30 145.55h2.2M662.30 173.72h2.2M662.30 201.89h2.2M662.30 230.06h2.2M662.30 258.23h2.2M662.30 286.40h2.2" stroke="#111" stroke-width="1" fill="none"/>
<g font-family="'Liberation Sans', Arial, Helvetica, sans-serif" font-size="9.5" text-anchor="middle" fill="#000" stroke="#000" stroke-width="0.2">
<text x="674.80" y="7.90">1</text>
<text x="674.80" y="36.07">0.8</text>
<text x="674.80" y="64.24">0.6</text>
<text x="674.80" y="92.41">0.4</text>
<text x="674.80" y="120.58">0.2</text>
<text x="674.80" y="148.75">0</text>
<text x="674.80" y="176.92">−0.2</text>
<text x="674.80" y="205.09">−0.4</text>
<text x="674.80" y="233.26">−0.6</text>
<text x="674.80" y="261.43">−0.8</text>
<text x="674.80" y="289.60">−1</text>
</g>
<text transform="translate(510.80 306.40) scale(1 1)" font-family="'Liberation Sans', Arial, Helvetica, sans-serif" font-size="15.07" text-anchor="middle" fill="#000" stroke="#000" stroke-width="0.25">Flowering stage (FS)</text>
</g>
<g>
<g>
<circle cx="29.70" cy="329.97" r="8.78" fill="#062d5f"/>
<circle cx="48.50" cy="329.97" r="8.74" fill="#072f63"/>
<circle cx="67.30" cy="329.97" r="8.74" fill="#690319"/>
<circle cx="86.10" cy="329.97" r="8.34" fill="#104686"/>
<circle cx="104.90" cy="329.97" r="8.34" fill="#104686"/>
<circle cx="123.70" cy="329.97" r="7.83" fill="#1e62a7"/>
<circle cx="142.50" cy="329.97" r="8.70" fill="#6d0319"/>
<circle cx="161.30" cy="329.97" r="8.34" fill="#104686"/>
<circle cx="180.10" cy="329.97" r="8.34" fill="#89091d"/>
<circle cx="198.90" cy="329.97" r="7.43" fill="#bf3432"/>
<circle cx="217.70" cy="329.97" r="7.43" fill="#bf3432"/>
<circle cx="236.50" cy="329.97" r="7.37" fill="#2c77b3"/>
<circle cx="255.30" cy="329.97" r="5.80" fill="#87beda"/>
<circle cx="274.10" cy="329.97" r="8.48" fill="#0d3f7a"/>
<circle cx="48.50" cy="348.70" r="8.87" fill="#042858"/>
<circle cx="67.30" cy="348.70" r="8.82" fill="#620118"/>
<circle cx="86.10" cy="348.70" r="8.61" fill="#09346b"/>
<circle cx="104.90" cy="348.70" r="8.61" fill="#09346b"/>
<circle cx="123.70" cy="348.70" r="7.92" fill="#1b5ea5"/>
<circle cx="142.50" cy="348.70" r="8.74" fill="#690319"/>
<circle cx="161.30" cy="348.70" r="8.61" fill="#09346b"/>
<circle cx="180.10" cy="348.70" r="8.56" fill="#75051a"/>
<circle cx="198.90" cy="348.70" r="7.87" fill="#ad1724"/>
<circle cx="217.70" cy="348.70" r="7.87" fill="#ad1724"/>
<circle cx="236.50" cy="348.70" r="7.83" fill="#1e62a7"/>
<circle cx="255.30" cy="348.70" r="5.01" fill="#add2e5"/>
<circle cx="274.10" cy="348.70" r="8.48" fill="#0d3f7a"/>
<circle cx="67.30" cy="367.43" r="8.82" fill="#620118"/>
<circle cx="86.10" cy="367.43" r="8.65" fill="#09346b"/>
<circle cx="104.90" cy="367.43" r="8.65" fill="#09346b"/>
<circle cx="123.70" cy="367.43" r="7.97" fill="#1a5ba4"/>
<circle cx="142.50" cy="367.43" r="8.70" fill="#6d0319"/>
<circle cx="161.30" cy="367.43" r="8.61" fill="#09346b"/>
<circle cx="180.10" cy="367.43" r="8.61" fill="#71041a"/>
<circle cx="198.90" cy="367.43" r="8.02" fill="#a51020"/>
<circle cx="217.70" cy="367.43" r="7.97" fill="#a91121"/>
<circle cx="236.50" cy="367.43" r="7.97" fill="#1a5ba4"/>
<circle cx="255.30" cy="367.43" r="4.59" fill="#bedbea"/>
<circle cx="274.10" cy="367.43" r="8.48" fill="#0d3f7a"/>
<circle cx="86.10" cy="386.17" r="8.52" fill="#79061b"/>
<circle cx="104.90" cy="386.17" r="8.56" fill="#75051a"/>
<circle cx="123.70" cy="386.17" r="7.87" fill="#ad1724"/>
<circle cx="142.50" cy="386.17" r="8.65" fill="#09346b"/>
<circle cx="161.30" cy="386.17" r="8.56" fill="#75051a"/>
<circle cx="180.10" cy="386.17" r="8.56" fill="#0b3973"/>
<circle cx="198.90" cy="386.17" r="7.83" fill="#1e62a7"/>
<circle cx="217.70" cy="386.17" r="7.73" fill="#2167aa"/>
<circle cx="236.50" cy="386.17" r="7.73" fill="#b32029"/>
<circle cx="255.30" cy="386.17" r="5.08" fill="#f7b698"/>
<circle cx="274.10" cy="386.17" r="8.43" fill="#81081c"/>
<circle cx="104.90" cy="404.90" r="8.91" fill="#032554"/>
<circle cx="123.70" cy="404.90" r="8.16" fill="#155196"/>
<circle cx="142.50" cy="404.90" r="8.34" fill="#89091d"/>
<circle cx="161.30" cy="404.90" r="8.65" fill="#09346b"/>
<circle cx="180.10" cy="404.90" r="8.56" fill="#75051a"/>
<circle cx="198.90" cy="404.90" r="8.65" fill="#71041a"/>
<circle cx="217.70" cy="404.90" r="8.70" fill="#6d0319"/>
<circle cx="236.50" cy="404.90" r="8.65" fill="#09346b"/>
<circle cx="255.30" cy="404.90" r="2.69" fill="#feefe7"/>
<circle cx="274.10" cy="404.90" r="8.43" fill="#0e417e"/>
<circle cx="123.70" cy="423.63" r="8.16" fill="#155196"/>
<circle cx="142.50" cy="423.63" r="8.34" fill="#89091d"/>
<circle cx="161.30" cy="423.63" r="8.65" fill="#09346b"/>
<circle cx="180.10" cy="423.63" r="8.56" fill="#75051a"/>
<circle cx="198.90" cy="423.63" r="8.70" fill="#6d0319"/>
<circle cx="217.70" cy="423.63" r="8.65" fill="#71041a"/>
<circle cx="236.50" cy="423.63" r="8.65" fill="#09346b"/>
<circle cx="255.30" cy="423.63" r="2.52" fill="#fef2ea"/>
<circle cx="274.10" cy="423.63" r="8.39" fill="#0f4482"/>
<circle cx="142.50" cy="442.37" r="7.68" fill="#b5242a"/>
<circle cx="161.30" cy="442.37" r="7.27" fill="#2f7cb5"/>
<circle cx="180.10" cy="442.37" r="7.11" fill="#cb493c"/>
<circle cx="198.90" cy="442.37" r="7.87" fill="#ad1724"/>
<circle cx="217.70" cy="442.37" r="7.87" fill="#ad1724"/>
<circle cx="236.50" cy="442.37" r="7.87" fill="#1d60a6"/>
<circle cx="255.30" cy="442.37" r="1.92" fill="#fff8f4"/>
<circle cx="274.10" cy="442.37" r="8.39" fill="#0f4482"/>
<circle cx="161.30" cy="461.10" r="8.34" fill="#89091d"/>
<circle cx="180.10" cy="461.10" r="8.34" fill="#104686"/>
<circle cx="198.90" cy="461.10" r="7.53" fill="#2770af"/>
<circle cx="217.70" cy="461.10" r="7.53" fill="#2770af"/>
<circle cx="236.50" cy="461.10" r="7.53" fill="#bd3131"/>
<circle cx="255.30" cy="461.10" r="5.38" fill="#f5aa89"/>
<circle cx="274.10" cy="461.10" r="8.25" fill="#950c1e"/>
<circle cx="180.10" cy="479.83" r="8.91" fill="#5a0017"/>
<circle cx="198.90" cy="479.83" r="8.30" fill="#910b1e"/>
<circle cx="217.70" cy="479.83" r="8.20" fill="#990d1f"/>
<circle cx="236.50" cy="479.83" r="8.20" fill="#144e92"/>
<circle cx="255.30" cy="479.83" r="2.99" fill="#e6f1f7"/>
<circle cx="274.10" cy="479.83" r="8.11" fill="#16549a"/>
<circle cx="198.90" cy="498.57" r="8.16" fill="#155196"/>
<circle cx="217.70" cy="498.57" r="8.06" fill="#17569e"/>
<circle cx="236.50" cy="498.57" r="8.06" fill="#a10f20"/>
<circle cx="255.30" cy="498.57" r="3.38" fill="#fee5d7"/>
<circle cx="274.10" cy="498.57" r="8.02" fill="#a51020"/>
<circle cx="217.70" cy="517.30" r="8.87" fill="#042858"/>
<circle cx="236.50" cy="517.30" r="8.87" fill="#5e0117"/>
<circle cx="255.30" cy="517.30" r="5.53" fill="#95c5de"/>
<circle cx="274.10" cy="517.30" r="7.87" fill="#ad1724"/>
<circle cx="236.50" cy="536.03" r="8.91" fill="#5a0017"/>
<circle cx="255.30" cy="536.03" r="5.67" fill="#8ec2dc"/>
<circle cx="274.10" cy="536.03" r="7.87" fill="#ad1724"/>
<circle cx="255.30" cy="554.77" r="5.73" fill="#f39b77"/>
<circle cx="274.10" cy="554.77" r="7.83" fill="#1e62a7"/>
<circle cx="274.10" cy="573.50" r="3.83" fill="#d6e8f2"/>
</g>
<path d="M1.50 320.60V601.60M1.50 320.60H283.50M20.30 320.60V601.60M1.50 339.33H283.50M39.10 320.60V601.60M1.50 358.07H283.50M57.90 320.60V601.60M1.50 376.80H283.50M76.70 320.60V601.60M1.50 395.53H283.50M95.50 320.60V601.60M1.50 414.27H283.50M114.30 320.60V601.60M1.50 433.00H283.50M133.10 320.60V601.60M1.50 451.73H283.50M151.90 320.60V601.60M1.50 470.47H283.50M170.70 320.60V601.60M1.50 489.20H283.50M189.50 320.60V601.60M1.50 507.93H283.50M208.30 320.60V601.60M1.50 526.67H283.50M227.10 320.60V601.60M1.50 545.40H283.50M245.90 320.60V601.60M1.50 564.13H283.50M264.70 320.60V601.60M1.50 582.87H283.50M283.50 320.60V601.60M1.50 601.60H283.50" stroke="#c0c0c0" stroke-width="1" fill="none" stroke-linecap="square" shape-rendering="crispEdges"/>
<g font-family="'Liberation Sans', Arial, Helvetica, sans-serif" font-weight="bold" font-size="6.65" text-anchor="middle" stroke-width="0.3">
<text x="12.10" y="351.30" fill="#032150" stroke="#032150">0.97</text>
<text x="12.10" y="370.03" fill="#032354" stroke="#032354">0.96</text>
<text x="30.90" y="370.03" fill="#021d49" stroke="#021d49">0.99</text>
<text x="11.20" y="388.77" fill="#5a0110" stroke="#5a0110">−0.96</text>
<text x="30.00" y="388.77" fill="#520010" stroke="#520010">−0.98</text>
<text x="48.80" y="388.77" fill="#520010" stroke="#520010">−0.98</text>
<text x="12.10" y="407.50" fill="#0a3878" stroke="#0a3878">0.87</text>
<text x="30.90" y="407.50" fill="#05285c" stroke="#05285c">0.93</text>
<text x="49.70" y="407.50" fill="#05285c" stroke="#05285c">0.94</text>
<text x="67.60" y="407.50" fill="#6a0312" stroke="#6a0312">−0.91</text>
<text x="12.10" y="426.23" fill="#0a3878" stroke="#0a3878">0.87</text>
<text x="30.90" y="426.23" fill="#05285c" stroke="#05285c">0.93</text>
<text x="49.70" y="426.23" fill="#05285c" stroke="#05285c">0.94</text>
<text x="67.60" y="426.23" fill="#660312" stroke="#660312">−0.92</text>
<text x="87.30" y="426.23" fill="#011b45" stroke="#011b45">1.00</text>
<text x="12.10" y="444.97" fill="#15539b" stroke="#15539b">0.76</text>
<text x="30.90" y="444.97" fill="#134f99" stroke="#134f99">0.78</text>
<text x="49.70" y="444.97" fill="#114c97" stroke="#114c97">0.79</text>
<text x="67.60" y="444.97" fill="#a10f1a" stroke="#a10f1a">−0.77</text>
<text x="87.30" y="444.97" fill="#0d4289" stroke="#0d4289">0.83</text>
<text x="106.10" y="444.97" fill="#0d4289" stroke="#0d4289">0.83</text>
<text x="11.20" y="463.70" fill="#5e0211" stroke="#5e0211">−0.95</text>
<text x="30.00" y="463.70" fill="#5a0110" stroke="#5a0110">−0.96</text>
<text x="48.80" y="463.70" fill="#5e0211" stroke="#5e0211">−0.95</text>
<text x="68.50" y="463.70" fill="#05285c" stroke="#05285c">0.94</text>
<text x="86.40" y="463.70" fill="#7b0514" stroke="#7b0514">−0.87</text>
<text x="105.20" y="463.70" fill="#7b0514" stroke="#7b0514">−0.87</text>
<text x="124.00" y="463.70" fill="#aa191f" stroke="#aa191f">−0.73</text>
<text x="12.10" y="482.43" fill="#0a3878" stroke="#0a3878">0.87</text>
<text x="30.90" y="482.43" fill="#05285c" stroke="#05285c">0.93</text>
<text x="49.70" y="482.43" fill="#05285c" stroke="#05285c">0.93</text>
<text x="67.60" y="482.43" fill="#660312" stroke="#660312">−0.92</text>
<text x="87.30" y="482.43" fill="#05285c" stroke="#05285c">0.94</text>
<text x="106.10" y="482.43" fill="#05285c" stroke="#05285c">0.94</text>
<text x="124.90" y="482.43" fill="#236dab" stroke="#236dab">0.65</text>
<text x="142.80" y="482.43" fill="#7b0514" stroke="#7b0514">−0.87</text>
<text x="11.20" y="501.17" fill="#7b0514" stroke="#7b0514">−0.87</text>
<text x="30.00" y="501.17" fill="#660312" stroke="#660312">−0.92</text>
<text x="48.80" y="501.17" fill="#620211" stroke="#620211">−0.93</text>
<text x="68.50" y="501.17" fill="#062c64" stroke="#062c64">0.92</text>
<text x="86.40" y="501.17" fill="#660312" stroke="#660312">−0.92</text>
<text x="105.20" y="501.17" fill="#660312" stroke="#660312">−0.92</text>
<text x="124.00" y="501.17" fill="#c33b2e" stroke="#c33b2e">−0.62</text>
<text x="143.70" y="501.17" fill="#0a3878" stroke="#0a3878">0.87</text>
<text x="161.60" y="501.17" fill="#4b000f" stroke="#4b000f">−1.00</text>
<text x="11.20" y="519.90" fill="#b52826" stroke="#b52826">−0.68</text>
<text x="30.00" y="519.90" fill="#a10f1a" stroke="#a10f1a">−0.77</text>
<text x="48.80" y="519.90" fill="#990a17" stroke="#990a17">−0.80</text>
<text x="68.50" y="519.90" fill="#15539b" stroke="#15539b">0.76</text>
<text x="86.40" y="519.90" fill="#620211" stroke="#620211">−0.94</text>
<text x="105.20" y="519.90" fill="#5e0211" stroke="#5e0211">−0.95</text>
<text x="124.00" y="519.90" fill="#a10f1a" stroke="#a10f1a">−0.77</text>
<text x="143.70" y="519.90" fill="#1c61a4" stroke="#1c61a4">0.70</text>
<text x="161.60" y="519.90" fill="#830715" stroke="#830715">−0.86</text>
<text x="181.30" y="519.90" fill="#0d4289" stroke="#0d4289">0.83</text>
<text x="11.20" y="538.63" fill="#b52826" stroke="#b52826">−0.68</text>
<text x="30.00" y="538.63" fill="#a10f1a" stroke="#a10f1a">−0.77</text>
<text x="48.80" y="538.63" fill="#9d0b17" stroke="#9d0b17">−0.79</text>
<text x="68.50" y="538.63" fill="#17589e" stroke="#17589e">0.74</text>
<text x="86.40" y="538.63" fill="#5e0211" stroke="#5e0211">−0.95</text>
<text x="105.20" y="538.63" fill="#620211" stroke="#620211">−0.94</text>
<text x="124.00" y="538.63" fill="#a10f1a" stroke="#a10f1a">−0.77</text>
<text x="143.70" y="538.63" fill="#1c61a4" stroke="#1c61a4">0.70</text>
<text x="161.60" y="538.63" fill="#8c0815" stroke="#8c0815">−0.84</text>
<text x="181.30" y="538.63" fill="#0f4892" stroke="#0f4892">0.81</text>
<text x="200.10" y="538.63" fill="#021d49" stroke="#021d49">0.99</text>
<text x="12.10" y="557.37" fill="#2068a8" stroke="#2068a8">0.67</text>
<text x="30.90" y="557.37" fill="#15539b" stroke="#15539b">0.76</text>
<text x="49.70" y="557.37" fill="#114c97" stroke="#114c97">0.79</text>
<text x="67.60" y="557.37" fill="#a8171e" stroke="#a8171e">−0.74</text>
<text x="87.30" y="557.37" fill="#05285c" stroke="#05285c">0.94</text>
<text x="106.10" y="557.37" fill="#05285c" stroke="#05285c">0.94</text>
<text x="124.90" y="557.37" fill="#14519a" stroke="#14519a">0.77</text>
<text x="142.80" y="557.37" fill="#b32524" stroke="#b32524">−0.70</text>
<text x="162.50" y="557.37" fill="#0d4085" stroke="#0d4085">0.84</text>
<text x="180.40" y="557.37" fill="#940916" stroke="#940916">−0.81</text>
<text x="199.20" y="557.37" fill="#4f000f" stroke="#4f000f">−0.99</text>
<text x="218.00" y="557.37" fill="#4b000f" stroke="#4b000f">−1.00</text>
<text x="12.10" y="576.10" fill="#79b5d4" stroke="#79b5d4">0.40</text>
<text x="30.90" y="576.10" fill="#a1cbe1" stroke="#a1cbe1">0.29</text>
<text x="49.70" y="576.10" fill="#b5d5e7" stroke="#b5d5e7">0.24</text>
<text x="67.60" y="576.10" fill="#f6ac8a" stroke="#f6ac8a">−0.30</text>
<text x="86.40" y="576.10" fill="#feede3" stroke="#feede3">−0.07</text>
<text x="105.20" y="576.10" fill="#feefe7" stroke="#feefe7">−0.06</text>
<text x="124.00" y="576.10" fill="#fff6f2" stroke="#fff6f2">−0.03</text>
<text x="142.80" y="576.10" fill="#f39f7b" stroke="#f39f7b">−0.34</text>
<text x="162.50" y="576.10" fill="#e2eef5" stroke="#e2eef5">0.09</text>
<text x="180.40" y="576.10" fill="#fde1d1" stroke="#fde1d1">−0.12</text>
<text x="200.10" y="576.10" fill="#87bdd9" stroke="#87bdd9">0.36</text>
<text x="218.90" y="576.10" fill="#80b9d6" stroke="#80b9d6">0.38</text>
<text x="236.80" y="576.10" fill="#f08f68" stroke="#f08f68">−0.39</text>
<text x="12.10" y="594.83" fill="#08316c" stroke="#08316c">0.90</text>
<text x="30.90" y="594.83" fill="#08316c" stroke="#08316c">0.90</text>
<text x="49.70" y="594.83" fill="#08316c" stroke="#08316c">0.90</text>
<text x="67.60" y="594.83" fill="#720413" stroke="#720413">−0.89</text>
<text x="87.30" y="594.83" fill="#083370" stroke="#083370">0.89</text>
<text x="106.10" y="594.83" fill="#093674" stroke="#093674">0.88</text>
<text x="124.90" y="594.83" fill="#093674" stroke="#093674">0.88</text>
<text x="142.80" y="594.83" fill="#870715" stroke="#870715">−0.85</text>
<text x="162.50" y="594.83" fill="#0e458d" stroke="#0e458d">0.82</text>
<text x="180.40" y="594.83" fill="#990a17" stroke="#990a17">−0.80</text>
<text x="199.20" y="594.83" fill="#a10f1a" stroke="#a10f1a">−0.77</text>
<text x="218.00" y="594.83" fill="#a10f1a" stroke="#a10f1a">−0.77</text>
<text x="237.70" y="594.83" fill="#15539b" stroke="#15539b">0.76</text>
<text x="256.50" y="594.83" fill="#d0e4ef" stroke="#d0e4ef">0.16</text>
</g>
<g font-family="'Liberation Sans', Arial, Helvetica, sans-serif" font-size="5.95" text-anchor="middle" fill="#ee2c2c" stroke="#ee2c2c" stroke-width="0.1" transform="scale(1 1.05)">
<text x="11.10" y="316.68">VARI</text>
<text x="29.90" y="334.52">NGRDI</text>
<text x="48.70" y="352.37">MGRVI</text>
<text x="67.50" y="370.21">EXR</text>
<text x="86.30" y="388.05">RGBVI</text>
<text x="105.10" y="405.89">VDVI</text>
<text x="123.90" y="423.73">EXGR</text>
<text x="142.70" y="441.57">RGRI</text>
<text x="161.50" y="459.41">EXG</text>
<text x="180.30" y="477.25">CIVE</text>
<text x="199.10" y="495.10">EXB</text>
<text x="217.90" y="512.94">BGRI</text>
<text x="236.70" y="530.78">NGBDI</text>
<text x="255.50" y="548.62">BRRI</text>
<text x="274.30" y="566.46">LAI</text>
</g>
<rect x="288.80" y="320.60" width="10.50" height="281.00" fill="url(#cb)" stroke="#1a1a1a" stroke-width="0.85"/>
<path d="M299.30 320.60h2.2M299.30 348.70h2.2M299.30 376.80h2.2M299.30 404.90h2.2M299.30 433.00h2.2M299.30 461.10h2.2M299.30 489.20h2.2M299.30 517.30h2.2M299.30 545.40h2.2M299.30 573.50h2.2M299.30 601.60h2.2" stroke="#111" stroke-width="1" fill="none"/>
<g font-family="'Liberation Sans', Arial, Helvetica, sans-serif" font-size="9.5" text-anchor="middle" fill="#000" stroke="#000" stroke-width="0.2" clip-path="url(#clip3)">
<text x="311.80" y="323.80">1</text>
<text x="311.80" y="351.90">0.8</text>
<text x="311.80" y="380.00">0.6</text>
<text x="311.80" y="408.10">0.4</text>
<text x="311.80" y="436.20">0.2</text>
<text x="311.80" y="464.30">0</text>
<text x="311.80" y="492.40">−0.2</text>
<text x="311.80" y="520.50">−0.4</text>
<text x="311.80" y="548.60">−0.6</text>
<text x="311.80" y="576.70">−0.8</text>
<text x="311.80" y="604.80">−1</text>
</g>
<text transform="translate(141.20 621.40) scale(0.973 1)" font-family="'Liberation Sans', Arial, Helvetica, sans-serif" font-size="15.07" text-anchor="middle" fill="#000" stroke="#000" stroke-width="0.25">Grain-filling stage (GS)</text>
</g>
<g>
<g>
<circle cx="391.71" cy="329.19" r="6.86" fill="#4390c0"/>
<circle cx="410.58" cy="329.19" r="8.94" fill="#032554"/>
<circle cx="429.46" cy="329.19" r="7.66" fill="#b92a2d"/>
<circle cx="448.33" cy="329.19" r="7.66" fill="#246bac"/>
<circle cx="467.20" cy="329.19" r="7.61" fill="#bb2d2f"/>
<circle cx="486.08" cy="329.19" r="7.66" fill="#246bac"/>
<circle cx="504.95" cy="329.19" r="6.46" fill="#5ea3cb"/>
<circle cx="523.82" cy="329.19" r="8.33" fill="#910b1e"/>
<circle cx="542.70" cy="329.19" r="8.33" fill="#910b1e"/>
<circle cx="561.57" cy="329.19" r="8.28" fill="#134c8e"/>
<circle cx="580.44" cy="329.19" r="7.71" fill="#2369ab"/>
<circle cx="599.32" cy="329.19" r="7.30" fill="#c53e37"/>
<circle cx="618.19" cy="329.19" r="5.25" fill="#f6b090"/>
<circle cx="637.06" cy="329.19" r="7.81" fill="#2065a9"/>
<circle cx="410.58" cy="347.97" r="6.86" fill="#4390c0"/>
<circle cx="429.46" cy="347.97" r="5.95" fill="#ef9471"/>
<circle cx="448.33" cy="347.97" r="5.95" fill="#7fb9d7"/>
<circle cx="467.20" cy="347.97" r="5.95" fill="#ef9471"/>
<circle cx="486.08" cy="347.97" r="5.95" fill="#7fb9d7"/>
<circle cx="504.95" cy="347.97" r="5.02" fill="#add2e5"/>
<circle cx="523.82" cy="347.97" r="5.95" fill="#ef9471"/>
<circle cx="542.70" cy="347.97" r="6.33" fill="#e37b5e"/>
<circle cx="561.57" cy="347.97" r="6.33" fill="#66a8ce"/>
<circle cx="580.44" cy="347.97" r="3.39" fill="#fee5d7"/>
<circle cx="599.32" cy="347.97" r="4.34" fill="#c9e0ed"/>
<circle cx="618.19" cy="347.97" r="3.95" fill="#fddbc7"/>
<circle cx="637.06" cy="347.97" r="7.81" fill="#2065a9"/>
<circle cx="429.46" cy="366.75" r="7.50" fill="#bf3432"/>
<circle cx="448.33" cy="366.75" r="7.56" fill="#2770af"/>
<circle cx="467.20" cy="366.75" r="7.50" fill="#bf3432"/>
<circle cx="486.08" cy="366.75" r="7.56" fill="#2770af"/>
<circle cx="504.95" cy="366.75" r="6.33" fill="#66a8ce"/>
<circle cx="523.82" cy="366.75" r="8.37" fill="#89091d"/>
<circle cx="542.70" cy="366.75" r="8.37" fill="#89091d"/>
<circle cx="561.57" cy="366.75" r="8.37" fill="#104686"/>
<circle cx="580.44" cy="366.75" r="7.66" fill="#246bac"/>
<circle cx="599.32" cy="366.75" r="7.30" fill="#c53e37"/>
<circle cx="618.19" cy="366.75" r="5.47" fill="#f5a785"/>
<circle cx="637.06" cy="366.75" r="7.76" fill="#2167aa"/>
<circle cx="448.33" cy="385.53" r="8.94" fill="#5a0017"/>
<circle cx="467.20" cy="385.53" r="8.90" fill="#042858"/>
<circle cx="486.08" cy="385.53" r="8.94" fill="#5a0017"/>
<circle cx="504.95" cy="385.53" r="8.77" fill="#690319"/>
<circle cx="523.82" cy="385.53" r="4.86" fill="#b4d5e7"/>
<circle cx="542.70" cy="385.53" r="4.70" fill="#bbd9e9"/>
<circle cx="561.57" cy="385.53" r="4.61" fill="#fac8ae"/>
<circle cx="580.44" cy="385.53" r="7.30" fill="#c53e37"/>
<circle cx="599.32" cy="385.53" r="7.19" fill="#3281b8"/>
<circle cx="618.19" cy="385.53" r="6.02" fill="#ee916e"/>
<circle cx="637.06" cy="385.53" r="7.56" fill="#bd3131"/>
<circle cx="467.20" cy="404.31" r="8.90" fill="#5e0117"/>
<circle cx="486.08" cy="404.31" r="8.94" fill="#032554"/>
<circle cx="504.95" cy="404.31" r="8.77" fill="#072f63"/>
<circle cx="523.82" cy="404.31" r="4.86" fill="#f9bfa3"/>
<circle cx="542.70" cy="404.31" r="4.70" fill="#fac5aa"/>
<circle cx="561.57" cy="404.31" r="4.61" fill="#bedbea"/>
<circle cx="580.44" cy="404.31" r="7.30" fill="#2f7cb5"/>
<circle cx="599.32" cy="404.31" r="7.19" fill="#c9453a"/>
<circle cx="618.19" cy="404.31" r="6.02" fill="#7bb6d5"/>
<circle cx="637.06" cy="404.31" r="7.56" fill="#2770af"/>
<circle cx="486.08" cy="423.09" r="8.90" fill="#5e0117"/>
<circle cx="504.95" cy="423.09" r="8.77" fill="#690319"/>
<circle cx="523.82" cy="423.09" r="4.78" fill="#b7d7e8"/>
<circle cx="542.70" cy="423.09" r="4.61" fill="#bedbea"/>
<circle cx="561.57" cy="423.09" r="4.52" fill="#fbcbb2"/>
<circle cx="580.44" cy="423.09" r="7.30" fill="#c53e37"/>
<circle cx="599.32" cy="423.09" r="7.14" fill="#3483b9"/>
<circle cx="618.19" cy="423.09" r="6.08" fill="#ec8d6b"/>
<circle cx="637.06" cy="423.09" r="7.56" fill="#bd3131"/>
<circle cx="504.95" cy="441.87" r="8.77" fill="#072f63"/>
<circle cx="523.82" cy="441.87" r="4.86" fill="#f9bfa3"/>
<circle cx="542.70" cy="441.87" r="4.70" fill="#fac5aa"/>
<circle cx="561.57" cy="441.87" r="4.61" fill="#bedbea"/>
<circle cx="580.44" cy="441.87" r="7.30" fill="#2f7cb5"/>
<circle cx="599.32" cy="441.87" r="7.19" fill="#c9453a"/>
<circle cx="618.19" cy="441.87" r="6.02" fill="#7bb6d5"/>
<circle cx="637.06" cy="441.87" r="7.56" fill="#2770af"/>
<circle cx="523.82" cy="460.65" r="1.30" fill="#fffcfa"/>
<circle cx="542.70" cy="460.65" r="1.65" fill="#fbfdfe"/>
<circle cx="561.57" cy="460.65" r="1.92" fill="#fff8f4"/>
<circle cx="580.44" cy="460.65" r="6.63" fill="#539bc6"/>
<circle cx="599.32" cy="460.65" r="6.63" fill="#db6950"/>
<circle cx="618.19" cy="460.65" r="7.35" fill="#2e7ab4"/>
<circle cx="637.06" cy="460.65" r="6.92" fill="#3f8dbf"/>
<circle cx="542.70" cy="479.43" r="8.90" fill="#042858"/>
<circle cx="561.57" cy="479.43" r="8.90" fill="#5e0117"/>
<circle cx="580.44" cy="479.43" r="6.97" fill="#d15441"/>
<circle cx="599.32" cy="479.43" r="6.52" fill="#5aa0c9"/>
<circle cx="618.19" cy="479.43" r="7.76" fill="#2167aa"/>
<circle cx="637.06" cy="479.43" r="6.63" fill="#db6950"/>
<circle cx="561.57" cy="498.21" r="8.94" fill="#5a0017"/>
<circle cx="580.44" cy="498.21" r="6.63" fill="#db6950"/>
<circle cx="599.32" cy="498.21" r="6.08" fill="#77b3d4"/>
<circle cx="618.19" cy="498.21" r="7.85" fill="#1e62a7"/>
<circle cx="637.06" cy="498.21" r="6.57" fill="#dd6c53"/>
<circle cx="580.44" cy="516.99" r="6.57" fill="#569dc8"/>
<circle cx="599.32" cy="516.99" r="6.02" fill="#ee916e"/>
<circle cx="618.19" cy="516.99" r="7.90" fill="#ad1724"/>
<circle cx="637.06" cy="516.99" r="6.57" fill="#569dc8"/>
<circle cx="599.32" cy="535.77" r="8.90" fill="#5e0117"/>
<circle cx="618.19" cy="535.77" r="2.35" fill="#fef4ed"/>
<circle cx="637.06" cy="535.77" r="5.55" fill="#95c5de"/>
<circle cx="618.19" cy="554.55" r="1.65" fill="#fffaf7"/>
<circle cx="637.06" cy="554.55" r="4.94" fill="#f8bc9f"/>
<circle cx="637.06" cy="573.33" r="1.65" fill="#fffaf7"/>
</g>
<path d="M363.40 319.90V601.60M363.40 319.90H646.50M382.27 319.90V601.60M363.40 338.68H646.50M401.15 319.90V601.60M363.40 357.46H646.50M420.02 319.90V601.60M363.40 376.24H646.50M438.89 319.90V601.60M363.40 395.02H646.50M457.77 319.90V601.60M363.40 413.80H646.50M476.64 319.90V601.60M363.40 432.58H646.50M495.51 319.90V601.60M363.40 451.36H646.50M514.39 319.90V601.60M363.40 470.14H646.50M533.26 319.90V601.60M363.40 488.92H646.50M552.13 319.90V601.60M363.40 507.70H646.50M571.01 319.90V601.60M363.40 526.48H646.50M589.88 319.90V601.60M363.40 545.26H646.50M608.75 319.90V601.60M363.40 564.04H646.50M627.63 319.90V601.60M363.40 582.82H646.50M646.50 319.90V601.60M363.40 601.60H646.50" stroke="#c0c0c0" stroke-width="1" fill="none" stroke-linecap="square" shape-rendering="crispEdges"/>
<g font-family="'Liberation Sans', Arial, Helvetica, sans-serif" font-weight="bold" font-size="6.65" text-anchor="middle" stroke-width="0.3">
<text x="374.04" y="350.57" fill="#3582b7" stroke="#3582b7">0.57</text>
<text x="374.04" y="369.35" fill="#011b45" stroke="#011b45">1.00</text>
<text x="392.91" y="369.35" fill="#3582b7" stroke="#3582b7">0.57</text>
<text x="373.14" y="388.13" fill="#af1f22" stroke="#af1f22">−0.72</text>
<text x="392.01" y="388.13" fill="#ed8762" stroke="#ed8762">−0.42</text>
<text x="410.88" y="388.13" fill="#b52826" stroke="#b52826">−0.69</text>
<text x="374.04" y="406.91" fill="#1a5da1" stroke="#1a5da1">0.72</text>
<text x="392.91" y="406.91" fill="#71afd1" stroke="#71afd1">0.42</text>
<text x="411.78" y="406.91" fill="#1c61a4" stroke="#1c61a4">0.70</text>
<text x="429.76" y="406.91" fill="#4b000f" stroke="#4b000f">−1.00</text>
<text x="373.14" y="425.69" fill="#b12223" stroke="#b12223">−0.71</text>
<text x="392.01" y="425.69" fill="#ed8762" stroke="#ed8762">−0.42</text>
<text x="410.88" y="425.69" fill="#b52826" stroke="#b52826">−0.69</text>
<text x="430.66" y="425.69" fill="#021d49" stroke="#021d49">0.99</text>
<text x="448.63" y="425.69" fill="#4f000f" stroke="#4f000f">−0.99</text>
<text x="374.04" y="444.47" fill="#1a5da1" stroke="#1a5da1">0.72</text>
<text x="392.91" y="444.47" fill="#71afd1" stroke="#71afd1">0.42</text>
<text x="411.78" y="444.47" fill="#1c61a4" stroke="#1c61a4">0.70</text>
<text x="429.76" y="444.47" fill="#4b000f" stroke="#4b000f">−1.00</text>
<text x="449.53" y="444.47" fill="#011b45" stroke="#011b45">1.00</text>
<text x="467.50" y="444.47" fill="#4f000f" stroke="#4f000f">−0.99</text>
<text x="374.04" y="463.25" fill="#4f97c3" stroke="#4f97c3">0.50</text>
<text x="392.91" y="463.25" fill="#a1cbe1" stroke="#a1cbe1">0.29</text>
<text x="411.78" y="463.25" fill="#579dc6" stroke="#579dc6">0.48</text>
<text x="429.76" y="463.25" fill="#5a0110" stroke="#5a0110">−0.96</text>
<text x="449.53" y="463.25" fill="#032354" stroke="#032354">0.96</text>
<text x="467.50" y="463.25" fill="#5a0110" stroke="#5a0110">−0.96</text>
<text x="487.28" y="463.25" fill="#032354" stroke="#032354">0.96</text>
<text x="373.14" y="482.03" fill="#830715" stroke="#830715">−0.86</text>
<text x="392.01" y="482.03" fill="#ed8762" stroke="#ed8762">−0.42</text>
<text x="410.88" y="482.03" fill="#7b0514" stroke="#7b0514">−0.87</text>
<text x="430.66" y="482.03" fill="#a9cfe3" stroke="#a9cfe3">0.27</text>
<text x="448.63" y="482.03" fill="#f8b697" stroke="#f8b697">−0.27</text>
<text x="468.40" y="482.03" fill="#add1e4" stroke="#add1e4">0.26</text>
<text x="486.38" y="482.03" fill="#f8b697" stroke="#f8b697">−0.27</text>
<text x="505.25" y="482.03" fill="#fffbf9" stroke="#fffbf9">−0.01</text>
<text x="373.14" y="500.81" fill="#830715" stroke="#830715">−0.86</text>
<text x="392.01" y="500.81" fill="#df6c4f" stroke="#df6c4f">−0.48</text>
<text x="410.88" y="500.81" fill="#7b0514" stroke="#7b0514">−0.87</text>
<text x="430.66" y="500.81" fill="#b1d3e5" stroke="#b1d3e5">0.25</text>
<text x="448.63" y="500.81" fill="#f9bc9f" stroke="#f9bc9f">−0.25</text>
<text x="468.40" y="500.81" fill="#b5d5e7" stroke="#b5d5e7">0.24</text>
<text x="486.38" y="500.81" fill="#f9bc9f" stroke="#f9bc9f">−0.25</text>
<text x="506.15" y="500.81" fill="#fafcfd" stroke="#fafcfd">0.02</text>
<text x="525.02" y="500.81" fill="#021d49" stroke="#021d49">0.99</text>
<text x="374.04" y="519.59" fill="#0c3d81" stroke="#0c3d81">0.85</text>
<text x="392.91" y="519.59" fill="#579dc6" stroke="#579dc6">0.48</text>
<text x="411.78" y="519.59" fill="#0a3878" stroke="#0a3878">0.87</text>
<text x="429.76" y="519.59" fill="#fac0a3" stroke="#fac0a3">−0.24</text>
<text x="449.53" y="519.59" fill="#b5d5e7" stroke="#b5d5e7">0.24</text>
<text x="467.50" y="519.59" fill="#fac3a7" stroke="#fac3a7">−0.23</text>
<text x="487.28" y="519.59" fill="#b5d5e7" stroke="#b5d5e7">0.24</text>
<text x="505.25" y="519.59" fill="#fff6f2" stroke="#fff6f2">−0.03</text>
<text x="524.12" y="519.59" fill="#4f000f" stroke="#4f000f">−0.99</text>
<text x="543.00" y="519.59" fill="#4b000f" stroke="#4b000f">−1.00</text>
<text x="374.04" y="538.37" fill="#195aa0" stroke="#195aa0">0.73</text>
<text x="392.01" y="538.37" fill="#fde1d1" stroke="#fde1d1">−0.12</text>
<text x="411.78" y="538.37" fill="#1a5da1" stroke="#1a5da1">0.72</text>
<text x="429.76" y="538.37" fill="#bc312a" stroke="#bc312a">−0.65</text>
<text x="449.53" y="538.37" fill="#236dab" stroke="#236dab">0.65</text>
<text x="467.50" y="538.37" fill="#bc312a" stroke="#bc312a">−0.65</text>
<text x="487.28" y="538.37" fill="#236dab" stroke="#236dab">0.65</text>
<text x="506.15" y="538.37" fill="#448ebe" stroke="#448ebe">0.53</text>
<text x="524.12" y="538.37" fill="#ca4533" stroke="#ca4533">−0.59</text>
<text x="543.00" y="538.37" fill="#d55a42" stroke="#d55a42">−0.53</text>
<text x="562.77" y="538.37" fill="#4891bf" stroke="#4891bf">0.52</text>
<text x="373.14" y="557.15" fill="#bc312a" stroke="#bc312a">−0.65</text>
<text x="392.91" y="557.15" fill="#c1dbea" stroke="#c1dbea">0.21</text>
<text x="410.88" y="557.15" fill="#bc312a" stroke="#bc312a">−0.65</text>
<text x="430.66" y="557.15" fill="#2672ae" stroke="#2672ae">0.63</text>
<text x="448.63" y="557.15" fill="#c1372d" stroke="#c1372d">−0.63</text>
<text x="468.40" y="557.15" fill="#2775af" stroke="#2775af">0.62</text>
<text x="486.38" y="557.15" fill="#c1372d" stroke="#c1372d">−0.63</text>
<text x="505.25" y="557.15" fill="#d55a42" stroke="#d55a42">−0.53</text>
<text x="525.02" y="557.15" fill="#4c94c1" stroke="#4c94c1">0.51</text>
<text x="543.90" y="557.15" fill="#68a9cd" stroke="#68a9cd">0.44</text>
<text x="561.87" y="557.15" fill="#eb835f" stroke="#eb835f">−0.43</text>
<text x="580.74" y="557.15" fill="#4f000f" stroke="#4f000f">−0.99</text>
<text x="373.14" y="575.93" fill="#f5a583" stroke="#f5a583">−0.32</text>
<text x="392.01" y="575.93" fill="#fdd5bf" stroke="#fdd5bf">−0.17</text>
<text x="410.88" y="575.93" fill="#f39b77" stroke="#f39b77">−0.35</text>
<text x="429.76" y="575.93" fill="#eb835f" stroke="#eb835f">−0.43</text>
<text x="449.53" y="575.93" fill="#6caccf" stroke="#6caccf">0.43</text>
<text x="467.50" y="575.93" fill="#e97f5c" stroke="#e97f5c">−0.44</text>
<text x="487.28" y="575.93" fill="#6caccf" stroke="#6caccf">0.43</text>
<text x="506.15" y="575.93" fill="#226ba9" stroke="#226ba9">0.66</text>
<text x="525.02" y="575.93" fill="#17589e" stroke="#17589e">0.74</text>
<text x="543.90" y="575.93" fill="#15539b" stroke="#15539b">0.76</text>
<text x="561.87" y="575.93" fill="#a10f1a" stroke="#a10f1a">−0.77</text>
<text x="580.74" y="575.93" fill="#fef2ea" stroke="#fef2ea">−0.05</text>
<text x="599.62" y="575.93" fill="#fff9f6" stroke="#fff9f6">−0.02</text>
<text x="374.04" y="594.71" fill="#16569d" stroke="#16569d">0.75</text>
<text x="392.91" y="594.71" fill="#16569d" stroke="#16569d">0.75</text>
<text x="411.78" y="594.71" fill="#17589e" stroke="#17589e">0.74</text>
<text x="429.76" y="594.71" fill="#b32524" stroke="#b32524">−0.70</text>
<text x="449.53" y="594.71" fill="#1c61a4" stroke="#1c61a4">0.70</text>
<text x="467.50" y="594.71" fill="#b32524" stroke="#b32524">−0.70</text>
<text x="487.28" y="594.71" fill="#1c61a4" stroke="#1c61a4">0.70</text>
<text x="506.15" y="594.71" fill="#327fb5" stroke="#327fb5">0.58</text>
<text x="524.12" y="594.71" fill="#d55a42" stroke="#d55a42">−0.53</text>
<text x="543.00" y="594.71" fill="#d75d44" stroke="#d75d44">−0.52</text>
<text x="562.77" y="594.71" fill="#4891bf" stroke="#4891bf">0.52</text>
<text x="581.64" y="594.71" fill="#87bdd9" stroke="#87bdd9">0.36</text>
<text x="599.62" y="594.71" fill="#f7b293" stroke="#f7b293">−0.28</text>
<text x="618.49" y="594.71" fill="#fff9f6" stroke="#fff9f6">−0.02</text>
</g>
<g font-family="'Liberation Sans', Arial, Helvetica, sans-serif" font-size="5.95" text-anchor="middle" fill="#ee2c2c" stroke="#ee2c2c" stroke-width="0.1" transform="scale(1 1.05)">
<text x="373.04" y="316.04">VDVI</text>
<text x="391.91" y="333.92">EXGR</text>
<text x="410.78" y="351.81">RGBVI</text>
<text x="429.66" y="369.70">RGRI</text>
<text x="448.53" y="387.58">MGRVI</text>
<text x="467.40" y="405.47">EXR</text>
<text x="486.28" y="423.35">NGRDI</text>
<text x="505.15" y="441.24">VARI</text>
<text x="524.02" y="459.12">EXB</text>
<text x="542.90" y="477.01">BGRI</text>
<text x="561.77" y="494.90">NGBDI</text>
<text x="580.64" y="512.78">EXG</text>
<text x="599.52" y="530.67">CIVE</text>
<text x="618.39" y="548.55">BRRI</text>
<text x="637.26" y="566.44">LAI</text>
</g>
<rect x="651.80" y="319.90" width="10.50" height="281.70" fill="url(#cb)" stroke="#1a1a1a" stroke-width="0.85"/>
<path d="M662.30 319.90h2.2M662.30 348.07h2.2M662.30 376.24h2.2M662.30 404.41h2.2M662.30 432.58h2.2M662.30 460.75h2.2M662.30 488.92h2.2M662.30 517.09h2.2M662.30 545.26h2.2M662.30 573.43h2.2M662.30 601.60h2.2" stroke="#111" stroke-width="1" fill="none"/>
<g font-family="'Liberation Sans', Arial, Helvetica, sans-serif" font-size="9.5" text-anchor="middle" fill="#000" stroke="#000" stroke-width="0.2">
<text x="674.80" y="323.10">1</text>
<text x="674.80" y="351.27">0.8</text>
<text x="674.80" y="379.44">0.6</text>
<text x="674.80" y="407.61">0.4</text>
<text x="674.80" y="435.78">0.2</text>
<text x="674.80" y="463.95">0</text>
<text x="674.80" y="492.12">−0.2</text>
<text x="674.80" y="520.29">−0.4</text>
<text x="674.80" y="548.46">−0.6</text>
<text x="674.80" y="576.63">−0.8</text>
<text x="674.80" y="604.80">−1</text>
</g>
<text transform="translate(501.10 621.70) scale(0.99 1)" font-family="'Liberation Sans', Arial, Helvetica, sans-serif" font-size="15.07" text-anchor="middle" fill="#000" stroke="#000" stroke-width="0.25">Milk-rape stage (MS)</text>
</g>
<g>
<g>
<circle cx="207.80" cy="645.43" r="7.75" fill="#b32029"/>
<circle cx="226.67" cy="645.43" r="7.60" fill="#266eae"/>
<circle cx="245.53" cy="645.43" r="7.65" fill="#246bac"/>
<circle cx="264.40" cy="645.43" r="7.50" fill="#bf3432"/>
<circle cx="283.27" cy="645.43" r="7.45" fill="#2972b0"/>
<circle cx="302.13" cy="645.43" r="7.50" fill="#2972b0"/>
<circle cx="321.00" cy="645.43" r="7.45" fill="#2972b0"/>
<circle cx="339.87" cy="645.43" r="4.86" fill="#b4d5e7"/>
<circle cx="358.73" cy="645.43" r="6.27" fill="#6babcf"/>
<circle cx="377.60" cy="645.43" r="6.27" fill="#e57e60"/>
<circle cx="396.47" cy="645.43" r="5.82" fill="#f19874"/>
<circle cx="415.33" cy="645.43" r="3.74" fill="#d9e9f2"/>
<circle cx="434.20" cy="645.43" r="2.70" fill="#feefe7"/>
<circle cx="453.07" cy="645.43" r="8.00" fill="#1a5ba4"/>
<circle cx="226.67" cy="664.30" r="8.85" fill="#620118"/>
<circle cx="245.53" cy="664.30" r="8.85" fill="#620118"/>
<circle cx="264.40" cy="664.30" r="8.77" fill="#072f63"/>
<circle cx="283.27" cy="664.30" r="8.77" fill="#690319"/>
<circle cx="302.13" cy="664.30" r="8.32" fill="#910b1e"/>
<circle cx="321.00" cy="664.30" r="8.23" fill="#990d1f"/>
<circle cx="339.87" cy="664.30" r="6.75" fill="#d8624b"/>
<circle cx="358.73" cy="664.30" r="6.39" fill="#e2775b"/>
<circle cx="377.60" cy="664.30" r="6.39" fill="#62a6cc"/>
<circle cx="396.47" cy="664.30" r="6.27" fill="#6babcf"/>
<circle cx="415.33" cy="664.30" r="7.29" fill="#c53e37"/>
<circle cx="434.20" cy="664.30" r="7.08" fill="#3685ba"/>
<circle cx="453.07" cy="664.30" r="7.70" fill="#b5242a"/>
<circle cx="245.53" cy="683.17" r="8.90" fill="#042858"/>
<circle cx="264.40" cy="683.17" r="8.85" fill="#620118"/>
<circle cx="283.27" cy="683.17" r="8.85" fill="#052a5b"/>
<circle cx="302.13" cy="683.17" r="8.41" fill="#0f4482"/>
<circle cx="321.00" cy="683.17" r="8.37" fill="#104686"/>
<circle cx="339.87" cy="683.17" r="6.69" fill="#4f98c5"/>
<circle cx="358.73" cy="683.17" r="6.57" fill="#569dc8"/>
<circle cx="377.60" cy="683.17" r="6.57" fill="#dd6c53"/>
<circle cx="396.47" cy="683.17" r="6.45" fill="#e07358"/>
<circle cx="415.33" cy="683.17" r="7.50" fill="#2972b0"/>
<circle cx="434.20" cy="683.17" r="7.29" fill="#c53e37"/>
<circle cx="453.07" cy="683.17" r="7.50" fill="#2972b0"/>
<circle cx="264.40" cy="702.03" r="8.85" fill="#620118"/>
<circle cx="283.27" cy="702.03" r="8.81" fill="#062d5f"/>
<circle cx="302.13" cy="702.03" r="8.46" fill="#0e417e"/>
<circle cx="321.00" cy="702.03" r="8.41" fill="#0f4482"/>
<circle cx="339.87" cy="702.03" r="6.57" fill="#569dc8"/>
<circle cx="358.73" cy="702.03" r="6.63" fill="#539bc6"/>
<circle cx="377.60" cy="702.03" r="6.63" fill="#db6950"/>
<circle cx="396.47" cy="702.03" r="6.51" fill="#de7056"/>
<circle cx="415.33" cy="702.03" r="7.50" fill="#2972b0"/>
<circle cx="434.20" cy="702.03" r="7.29" fill="#c53e37"/>
<circle cx="453.07" cy="702.03" r="7.50" fill="#2972b0"/>
<circle cx="283.27" cy="720.90" r="8.77" fill="#690319"/>
<circle cx="302.13" cy="720.90" r="8.28" fill="#950c1e"/>
<circle cx="321.00" cy="720.90" r="8.23" fill="#990d1f"/>
<circle cx="339.87" cy="720.90" r="6.75" fill="#d8624b"/>
<circle cx="358.73" cy="720.90" r="6.33" fill="#e37b5e"/>
<circle cx="377.60" cy="720.90" r="6.39" fill="#62a6cc"/>
<circle cx="396.47" cy="720.90" r="6.21" fill="#6faed1"/>
<circle cx="415.33" cy="720.90" r="7.35" fill="#c33b35"/>
<circle cx="434.20" cy="720.90" r="7.14" fill="#3483b9"/>
<circle cx="453.07" cy="720.90" r="7.45" fill="#bf3432"/>
<circle cx="302.13" cy="739.77" r="8.00" fill="#1a5ba4"/>
<circle cx="321.00" cy="739.77" r="7.95" fill="#1b5ea5"/>
<circle cx="339.87" cy="739.77" r="7.35" fill="#2e7ab4"/>
<circle cx="358.73" cy="739.77" r="5.61" fill="#91c3dd"/>
<circle cx="377.60" cy="739.77" r="5.68" fill="#f39e7a"/>
<circle cx="396.47" cy="739.77" r="5.54" fill="#f4a481"/>
<circle cx="415.33" cy="739.77" r="7.08" fill="#3685ba"/>
<circle cx="434.20" cy="739.77" r="6.86" fill="#d65e49"/>
<circle cx="453.07" cy="739.77" r="7.40" fill="#2c77b3"/>
<circle cx="321.00" cy="758.63" r="8.94" fill="#032554"/>
<circle cx="339.87" cy="758.63" r="2.85" fill="#ebf4f9"/>
<circle cx="358.73" cy="758.63" r="8.32" fill="#11498a"/>
<circle cx="377.60" cy="758.63" r="8.32" fill="#910b1e"/>
<circle cx="396.47" cy="758.63" r="8.23" fill="#990d1f"/>
<circle cx="415.33" cy="758.63" r="8.00" fill="#1a5ba4"/>
<circle cx="434.20" cy="758.63" r="7.75" fill="#b32029"/>
<circle cx="453.07" cy="758.63" r="7.03" fill="#3888bc"/>
<circle cx="339.87" cy="777.50" r="2.53" fill="#f0f7fa"/>
<circle cx="358.73" cy="777.50" r="8.37" fill="#104686"/>
<circle cx="377.60" cy="777.50" r="8.37" fill="#89091d"/>
<circle cx="396.47" cy="777.50" r="8.28" fill="#950c1e"/>
<circle cx="415.33" cy="777.50" r="8.04" fill="#1859a2"/>
<circle cx="434.20" cy="777.50" r="7.75" fill="#b32029"/>
<circle cx="453.07" cy="777.50" r="6.97" fill="#3b8bbd"/>
<circle cx="358.73" cy="796.37" r="6.08" fill="#ec8d6b"/>
<circle cx="377.60" cy="796.37" r="6.02" fill="#7bb6d5"/>
<circle cx="396.47" cy="796.37" r="6.15" fill="#73b1d2"/>
<circle cx="415.33" cy="796.37" r="1.92" fill="#f8fbfd"/>
<circle cx="434.20" cy="796.37" r="2.35" fill="#fef4ed"/>
<circle cx="453.07" cy="796.37" r="5.68" fill="#8ec2dc"/>
<circle cx="377.60" cy="815.23" r="8.94" fill="#5a0017"/>
<circle cx="396.47" cy="815.23" r="8.90" fill="#5e0117"/>
<circle cx="415.33" cy="815.23" r="7.55" fill="#2770af"/>
<circle cx="434.20" cy="815.23" r="7.24" fill="#c74239"/>
<circle cx="453.07" cy="815.23" r="5.40" fill="#9cc9e0"/>
<circle cx="396.47" cy="834.10" r="8.85" fill="#052a5b"/>
<circle cx="415.33" cy="834.10" r="7.60" fill="#bb2d2f"/>
<circle cx="434.20" cy="834.10" r="7.29" fill="#2f7cb5"/>
<circle cx="453.07" cy="834.10" r="5.33" fill="#f6ad8c"/>
<circle cx="415.33" cy="852.97" r="7.85" fill="#af1a26"/>
<circle cx="434.20" cy="852.97" r="7.55" fill="#2770af"/>
<circle cx="453.07" cy="852.97" r="5.10" fill="#f7b698"/>
<circle cx="434.20" cy="871.83" r="8.94" fill="#5a0017"/>
<circle cx="453.07" cy="871.83" r="4.61" fill="#bedbea"/>
<circle cx="453.07" cy="890.70" r="4.15" fill="#fdd7c1"/>
</g>
<path d="M179.50 635.40V918.40M179.50 635.40H462.50M198.37 635.40V918.40M179.50 654.27H462.50M217.23 635.40V918.40M179.50 673.13H462.50M236.10 635.40V918.40M179.50 692.00H462.50M254.97 635.40V918.40M179.50 710.87H462.50M273.83 635.40V918.40M179.50 729.73H462.50M292.70 635.40V918.40M179.50 748.60H462.50M311.57 635.40V918.40M179.50 767.47H462.50M330.43 635.40V918.40M179.50 786.33H462.50M349.30 635.40V918.40M179.50 805.20H462.50M368.17 635.40V918.40M179.50 824.07H462.50M387.03 635.40V918.40M179.50 842.93H462.50M405.90 635.40V918.40M179.50 861.80H462.50M424.77 635.40V918.40M179.50 880.67H462.50M443.63 635.40V918.40M179.50 899.53H462.50M462.50 635.40V918.40M179.50 918.40H462.50" stroke="#c0c0c0" stroke-width="1" fill="none" stroke-linecap="square" shape-rendering="crispEdges"/>
<g font-family="'Liberation Sans', Arial, Helvetica, sans-serif" font-weight="bold" font-size="6.65" text-anchor="middle" stroke-width="0.3">
<text x="188.83" y="666.60" fill="#a8171e" stroke="#a8171e">−0.74</text>
<text x="189.73" y="685.47" fill="#1b5fa2" stroke="#1b5fa2">0.71</text>
<text x="207.70" y="685.47" fill="#520010" stroke="#520010">−0.98</text>
<text x="189.73" y="704.33" fill="#1a5da1" stroke="#1a5da1">0.72</text>
<text x="207.70" y="704.33" fill="#520010" stroke="#520010">−0.98</text>
<text x="227.47" y="704.33" fill="#021d49" stroke="#021d49">0.99</text>
<text x="188.83" y="723.20" fill="#b52826" stroke="#b52826">−0.69</text>
<text x="208.60" y="723.20" fill="#032354" stroke="#032354">0.96</text>
<text x="226.57" y="723.20" fill="#520010" stroke="#520010">−0.98</text>
<text x="245.43" y="723.20" fill="#520010" stroke="#520010">−0.98</text>
<text x="189.73" y="742.07" fill="#1e64a5" stroke="#1e64a5">0.68</text>
<text x="207.70" y="742.07" fill="#5a0110" stroke="#5a0110">−0.96</text>
<text x="227.47" y="742.07" fill="#021f4d" stroke="#021f4d">0.98</text>
<text x="246.33" y="742.07" fill="#032150" stroke="#032150">0.97</text>
<text x="264.30" y="742.07" fill="#5a0110" stroke="#5a0110">−0.96</text>
<text x="189.73" y="760.93" fill="#1e64a5" stroke="#1e64a5">0.69</text>
<text x="207.70" y="760.93" fill="#830715" stroke="#830715">−0.86</text>
<text x="227.47" y="760.93" fill="#093674" stroke="#093674">0.88</text>
<text x="246.33" y="760.93" fill="#083370" stroke="#083370">0.89</text>
<text x="264.30" y="760.93" fill="#870715" stroke="#870715">−0.85</text>
<text x="284.07" y="760.93" fill="#114c97" stroke="#114c97">0.79</text>
<text x="189.73" y="779.80" fill="#1e64a5" stroke="#1e64a5">0.68</text>
<text x="207.70" y="779.80" fill="#8c0815" stroke="#8c0815">−0.84</text>
<text x="227.47" y="779.80" fill="#0a3878" stroke="#0a3878">0.87</text>
<text x="246.33" y="779.80" fill="#093674" stroke="#093674">0.88</text>
<text x="264.30" y="779.80" fill="#8c0815" stroke="#8c0815">−0.84</text>
<text x="284.07" y="779.80" fill="#134f99" stroke="#134f99">0.78</text>
<text x="302.93" y="779.80" fill="#011b45" stroke="#011b45">1.00</text>
<text x="189.73" y="798.67" fill="#a9cfe3" stroke="#a9cfe3">0.27</text>
<text x="207.70" y="798.67" fill="#d1533d" stroke="#d1533d">−0.55</text>
<text x="227.47" y="798.67" fill="#408bbc" stroke="#408bbc">0.54</text>
<text x="246.33" y="798.67" fill="#4891bf" stroke="#4891bf">0.52</text>
<text x="264.30" y="798.67" fill="#d1533d" stroke="#d1533d">−0.55</text>
<text x="284.07" y="798.67" fill="#226ba9" stroke="#226ba9">0.66</text>
<text x="302.93" y="798.67" fill="#e8f2f7" stroke="#e8f2f7">0.08</text>
<text x="321.80" y="798.67" fill="#eef5f9" stroke="#eef5f9">0.06</text>
<text x="189.73" y="817.53" fill="#5ca0c8" stroke="#5ca0c8">0.47</text>
<text x="207.70" y="817.53" fill="#dd684c" stroke="#dd684c">−0.49</text>
<text x="227.47" y="817.53" fill="#4891bf" stroke="#4891bf">0.52</text>
<text x="246.33" y="817.53" fill="#448ebe" stroke="#448ebe">0.53</text>
<text x="264.30" y="817.53" fill="#df6c4f" stroke="#df6c4f">−0.48</text>
<text x="284.07" y="817.53" fill="#84bbd7" stroke="#84bbd7">0.37</text>
<text x="302.93" y="817.53" fill="#0b3b7c" stroke="#0b3b7c">0.86</text>
<text x="321.80" y="817.53" fill="#0a3878" stroke="#0a3878">0.87</text>
<text x="339.77" y="817.53" fill="#e97f5c" stroke="#e97f5c">−0.44</text>
<text x="188.83" y="836.40" fill="#e17051" stroke="#e17051">−0.47</text>
<text x="208.60" y="836.40" fill="#539ac4" stroke="#539ac4">0.49</text>
<text x="226.57" y="836.40" fill="#d75d44" stroke="#d75d44">−0.52</text>
<text x="245.43" y="836.40" fill="#d55a42" stroke="#d55a42">−0.53</text>
<text x="265.20" y="836.40" fill="#539ac4" stroke="#539ac4">0.49</text>
<text x="283.17" y="836.40" fill="#f1926c" stroke="#f1926c">−0.38</text>
<text x="302.03" y="836.40" fill="#830715" stroke="#830715">−0.86</text>
<text x="320.90" y="836.40" fill="#7b0514" stroke="#7b0514">−0.87</text>
<text x="340.67" y="836.40" fill="#6caccf" stroke="#6caccf">0.43</text>
<text x="358.63" y="836.40" fill="#4b000f" stroke="#4b000f">−1.00</text>
<text x="188.83" y="855.27" fill="#ef8b65" stroke="#ef8b65">−0.40</text>
<text x="208.60" y="855.27" fill="#5ca0c8" stroke="#5ca0c8">0.47</text>
<text x="226.57" y="855.27" fill="#db644a" stroke="#db644a">−0.50</text>
<text x="245.43" y="855.27" fill="#d96147" stroke="#d96147">−0.51</text>
<text x="265.20" y="855.27" fill="#60a3ca" stroke="#60a3ca">0.46</text>
<text x="283.17" y="855.27" fill="#f29873" stroke="#f29873">−0.36</text>
<text x="302.03" y="855.27" fill="#8c0815" stroke="#8c0815">−0.84</text>
<text x="320.90" y="855.27" fill="#870715" stroke="#870715">−0.85</text>
<text x="340.67" y="855.27" fill="#64a6cb" stroke="#64a6cb">0.45</text>
<text x="358.63" y="855.27" fill="#4f000f" stroke="#4f000f">−0.99</text>
<text x="378.40" y="855.27" fill="#021f4d" stroke="#021f4d">0.98</text>
<text x="189.73" y="874.13" fill="#d3e6f0" stroke="#d3e6f0">0.15</text>
<text x="207.70" y="874.13" fill="#bc312a" stroke="#bc312a">−0.65</text>
<text x="227.47" y="874.13" fill="#1e64a5" stroke="#1e64a5">0.69</text>
<text x="246.33" y="874.13" fill="#1e64a5" stroke="#1e64a5">0.69</text>
<text x="264.30" y="874.13" fill="#ba2e29" stroke="#ba2e29">−0.66</text>
<text x="284.07" y="874.13" fill="#2977b0" stroke="#2977b0">0.61</text>
<text x="302.93" y="874.13" fill="#114c97" stroke="#114c97">0.79</text>
<text x="321.80" y="874.13" fill="#104a96" stroke="#104a96">0.80</text>
<text x="340.67" y="874.13" fill="#f7fbfc" stroke="#f7fbfc">0.03</text>
<text x="359.53" y="874.13" fill="#1c61a4" stroke="#1c61a4">0.70</text>
<text x="377.50" y="874.13" fill="#b12223" stroke="#b12223">−0.71</text>
<text x="396.37" y="874.13" fill="#a4121b" stroke="#a4121b">−0.76</text>
<text x="188.83" y="893.00" fill="#feede3" stroke="#feede3">−0.07</text>
<text x="208.60" y="893.00" fill="#2977b0" stroke="#2977b0">0.61</text>
<text x="226.57" y="893.00" fill="#bc312a" stroke="#bc312a">−0.65</text>
<text x="245.43" y="893.00" fill="#bc312a" stroke="#bc312a">−0.65</text>
<text x="265.20" y="893.00" fill="#2775af" stroke="#2775af">0.62</text>
<text x="283.17" y="893.00" fill="#cf4f3a" stroke="#cf4f3a">−0.57</text>
<text x="302.03" y="893.00" fill="#a8171e" stroke="#a8171e">−0.74</text>
<text x="320.90" y="893.00" fill="#a8171e" stroke="#a8171e">−0.74</text>
<text x="339.77" y="893.00" fill="#fef2ea" stroke="#fef2ea">−0.05</text>
<text x="358.63" y="893.00" fill="#be342b" stroke="#be342b">−0.64</text>
<text x="378.40" y="893.00" fill="#236dab" stroke="#236dab">0.65</text>
<text x="397.27" y="893.00" fill="#1c61a4" stroke="#1c61a4">0.70</text>
<text x="415.23" y="893.00" fill="#4b000f" stroke="#4b000f">−1.00</text>
<text x="189.73" y="911.87" fill="#114c97" stroke="#114c97">0.79</text>
<text x="207.70" y="911.87" fill="#aa191f" stroke="#aa191f">−0.73</text>
<text x="227.47" y="911.87" fill="#1e64a5" stroke="#1e64a5">0.69</text>
<text x="246.33" y="911.87" fill="#1e64a5" stroke="#1e64a5">0.69</text>
<text x="264.30" y="911.87" fill="#b52826" stroke="#b52826">−0.68</text>
<text x="284.07" y="911.87" fill="#2068a8" stroke="#2068a8">0.67</text>
<text x="302.93" y="911.87" fill="#2b7ab2" stroke="#2b7ab2">0.60</text>
<text x="321.80" y="911.87" fill="#2e7db4" stroke="#2e7db4">0.59</text>
<text x="340.67" y="911.87" fill="#80b9d6" stroke="#80b9d6">0.38</text>
<text x="359.53" y="911.87" fill="#8fc1db" stroke="#8fc1db">0.34</text>
<text x="377.50" y="911.87" fill="#f4a27f" stroke="#f4a27f">−0.33</text>
<text x="396.37" y="911.87" fill="#f6ac8a" stroke="#f6ac8a">−0.30</text>
<text x="416.13" y="911.87" fill="#b5d5e7" stroke="#b5d5e7">0.24</text>
<text x="434.10" y="911.87" fill="#fcd1b8" stroke="#fcd1b8">−0.19</text>
</g>
<g font-family="'Liberation Sans', Arial, Helvetica, sans-serif" font-size="5.95" text-anchor="middle" fill="#ee2c2c" stroke="#ee2c2c" stroke-width="0.1" transform="scale(1 1.05)">
<text x="189.13" y="616.94">EXGR</text>
<text x="208.00" y="634.90">EXR</text>
<text x="226.87" y="652.87">NGRDI</text>
<text x="245.73" y="670.84">MGRVI</text>
<text x="264.60" y="688.81">RGRI</text>
<text x="283.47" y="706.78">VARI</text>
<text x="302.33" y="724.75">VDVI</text>
<text x="321.20" y="742.71">RGBVI</text>
<text x="340.07" y="760.68">BRRI</text>
<text x="358.93" y="778.65">NGBDI</text>
<text x="377.80" y="796.62">BGRI</text>
<text x="396.67" y="814.59">EXB</text>
<text x="415.53" y="832.56">EXG</text>
<text x="434.40" y="850.52">CIVE</text>
<text x="453.27" y="868.49">LAI</text>
</g>
<rect x="467.80" y="635.40" width="10.50" height="283.00" fill="url(#cb)" stroke="#1a1a1a" stroke-width="0.85"/>
<path d="M478.30 635.40h2.2M478.30 663.70h2.2M478.30 692.00h2.2M478.30 720.30h2.2M478.30 748.60h2.2M478.30 776.90h2.2M478.30 805.20h2.2M478.30 833.50h2.2M478.30 861.80h2.2M478.30 890.10h2.2M478.30 918.40h2.2" stroke="#111" stroke-width="1" fill="none"/>
<g font-family="'Liberation Sans', Arial, Helvetica, sans-serif" font-size="9.5" text-anchor="middle" fill="#000" stroke="#000" stroke-width="0.2">
<text x="490.80" y="638.60">1</text>
<text x="490.80" y="666.90">0.8</text>
<text x="490.80" y="695.20">0.6</text>
<text x="490.80" y="723.50">0.4</text>
<text x="490.80" y="751.80">0.2</text>
<text x="490.80" y="780.10">0</text>
<text x="490.80" y="808.40">−0.2</text>
<text x="490.80" y="836.70">−0.4</text>
<text x="490.80" y="865.00">−0.6</text>
<text x="490.80" y="893.30">−0.8</text>
<text x="490.80" y="921.60">−1</text>
</g>
<text transform="translate(337.20 941.30) scale(0.945 1)" font-family="'Noto Sans CJK SC', 'DejaVu Sans', sans-serif" font-size="15.5" text-anchor="middle" fill="#000" stroke="#000" stroke-width="0.35">The whole growth period</text>
</g>
</g>
</svg>
</body></html>
